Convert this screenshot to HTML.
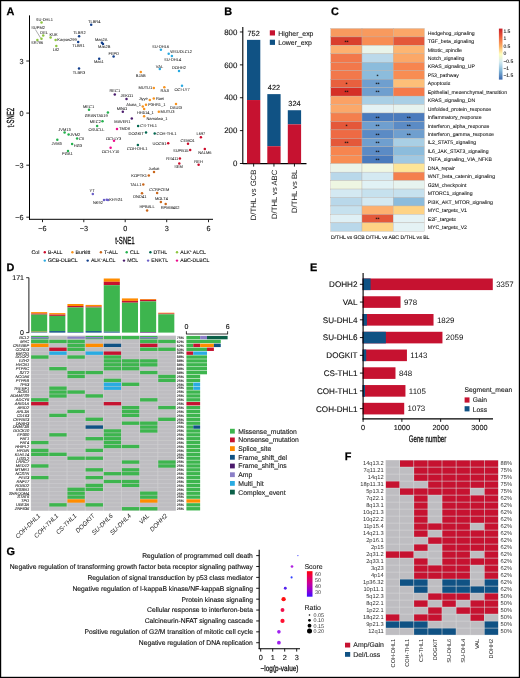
<!DOCTYPE html><html><head><meta charset="utf-8"><style>html,body{margin:0;padding:0;background:#fff;}svg{display:block;will-change:transform;font-family:"Liberation Sans",sans-serif;text-rendering:geometricPrecision;}</style></head><body><svg width="520" height="678" viewBox="0 0 520 678"><rect x="0" y="0" width="520" height="678" fill="#fff"/><text x="6.55" y="14.80" font-size="10.9" text-anchor="start" fill="#000" stroke="#000" stroke-width="0.250" font-weight="bold">A</text>
<line x1="29.50" y1="15.40" x2="29.50" y2="219.80" stroke="#000" stroke-width="1.0" />
<line x1="29.00" y1="219.30" x2="213.00" y2="219.30" stroke="#000" stroke-width="1.0" />
<line x1="26.30" y1="61.00" x2="29.20" y2="61.00" stroke="#222" stroke-width="1.0" />
<text x="23.60" y="63.60" font-size="7.3" text-anchor="end" fill="#111" stroke="#111" stroke-width="0.120" >3</text>
<line x1="26.30" y1="113.10" x2="29.20" y2="113.10" stroke="#222" stroke-width="1.0" />
<text x="23.60" y="115.70" font-size="7.3" text-anchor="end" fill="#111" stroke="#111" stroke-width="0.120" >0</text>
<line x1="26.30" y1="165.20" x2="29.20" y2="165.20" stroke="#222" stroke-width="1.0" />
<text x="23.60" y="167.80" font-size="7.3" text-anchor="end" fill="#111" stroke="#111" stroke-width="0.120" >−3</text>
<line x1="26.30" y1="217.20" x2="29.20" y2="217.20" stroke="#222" stroke-width="1.0" />
<text x="23.60" y="219.80" font-size="7.3" text-anchor="end" fill="#111" stroke="#111" stroke-width="0.120" >−6</text>
<line x1="42.50" y1="219.30" x2="42.50" y2="222.20" stroke="#222" stroke-width="1.0" />
<text x="42.50" y="231.00" font-size="7.3" text-anchor="middle" fill="#111" stroke="#111" stroke-width="0.120" >−6</text>
<line x1="83.80" y1="219.30" x2="83.80" y2="222.20" stroke="#222" stroke-width="1.0" />
<text x="83.80" y="231.00" font-size="7.3" text-anchor="middle" fill="#111" stroke="#111" stroke-width="0.120" >−3</text>
<line x1="125.20" y1="219.30" x2="125.20" y2="222.20" stroke="#222" stroke-width="1.0" />
<text x="125.20" y="231.00" font-size="7.3" text-anchor="middle" fill="#111" stroke="#111" stroke-width="0.120" >0</text>
<line x1="166.70" y1="219.30" x2="166.70" y2="222.20" stroke="#222" stroke-width="1.0" />
<text x="166.70" y="231.00" font-size="7.3" text-anchor="middle" fill="#111" stroke="#111" stroke-width="0.120" >3</text>
<line x1="208.50" y1="219.30" x2="208.50" y2="222.20" stroke="#222" stroke-width="1.0" />
<text x="208.50" y="231.00" font-size="7.3" text-anchor="middle" fill="#111" stroke="#111" stroke-width="0.120" >6</text>
<text x="0" y="0" font-size="10.3" text-anchor="middle" fill="#111" stroke="#111" stroke-width="0.35" transform="translate(124.9,243.6) scale(0.585,1)">t-SNE1</text>
<text x="0" y="0" font-size="10.3" text-anchor="middle" fill="#111" stroke="#111" stroke-width="0.35" transform="translate(13.8,117.5) rotate(-90) scale(0.585,1)">t-SNE2</text>
<line x1="35.40" y1="29.50" x2="40.80" y2="38.30" stroke="#333" stroke-width="0.4" />
<circle cx="41.50" cy="22.50" r="1.25" fill="#8dc63f"/>
<text x="44.40" y="20.80" font-size="4.0" text-anchor="middle" fill="#111" stroke="#111" stroke-width="0.020" >SU-DHL1</text>
<circle cx="41.50" cy="38.70" r="1.25" fill="#8dc63f"/>
<text x="38.10" y="28.90" font-size="4.0" text-anchor="middle" fill="#111" stroke="#111" stroke-width="0.020" >SUPM2</text>
<circle cx="43.20" cy="35.60" r="1.25" fill="#8dc63f"/>
<text x="44.20" y="33.60" font-size="4.0" text-anchor="middle" fill="#111" stroke="#111" stroke-width="0.020" >DEL</text>
<circle cx="37.40" cy="39.90" r="1.25" fill="#8dc63f"/>
<text x="37.20" y="44.40" font-size="4.0" text-anchor="middle" fill="#111" stroke="#111" stroke-width="0.020" >SR786</text>
<circle cx="50.60" cy="37.60" r="1.25" fill="#8dc63f"/>
<text x="53.60" y="35.90" font-size="4.0" text-anchor="middle" fill="#111" stroke="#111" stroke-width="0.020" >KUK</text>
<circle cx="55.60" cy="39.90" r="1.25" fill="#8dc63f"/>
<text x="57.30" y="40.80" font-size="4.0" text-anchor="start" fill="#111" stroke="#111" stroke-width="0.020" >Karpas299</text>
<circle cx="56.30" cy="46.10" r="1.25" fill="#8dc63f"/>
<text x="56.00" y="50.70" font-size="4.0" text-anchor="middle" fill="#111" stroke="#111" stroke-width="0.020" >L82</text>
<circle cx="79.10" cy="36.20" r="1.25" fill="#123f8c"/>
<text x="79.40" y="34.30" font-size="4.0" text-anchor="middle" fill="#111" stroke="#111" stroke-width="0.020" >TLBR2</text>
<circle cx="78.20" cy="42.00" r="1.25" fill="#123f8c"/>
<text x="78.50" y="47.10" font-size="4.0" text-anchor="middle" fill="#111" stroke="#111" stroke-width="0.020" >TLBR1</text>
<circle cx="91.20" cy="24.80" r="1.25" fill="#123f8c"/>
<text x="94.20" y="22.80" font-size="4.0" text-anchor="middle" fill="#111" stroke="#111" stroke-width="0.020" >TLBR4</text>
<circle cx="101.90" cy="42.70" r="1.25" fill="#123f8c"/>
<text x="101.20" y="40.70" font-size="4.0" text-anchor="middle" fill="#111" stroke="#111" stroke-width="0.020" >Mac2A</text>
<circle cx="103.00" cy="43.90" r="1.25" fill="#123f8c"/>
<text x="104.30" y="48.00" font-size="4.0" text-anchor="middle" fill="#111" stroke="#111" stroke-width="0.020" >Mac2B</text>
<circle cx="113.60" cy="56.40" r="1.25" fill="#123f8c"/>
<text x="113.80" y="54.50" font-size="4.0" text-anchor="middle" fill="#111" stroke="#111" stroke-width="0.020" >FEPD</text>
<circle cx="99.20" cy="58.70" r="1.25" fill="#123f8c"/>
<text x="98.80" y="62.90" font-size="4.0" text-anchor="middle" fill="#111" stroke="#111" stroke-width="0.020" >Mac1</text>
<circle cx="79.00" cy="68.50" r="1.25" fill="#123f8c"/>
<text x="79.00" y="73.60" font-size="4.0" text-anchor="middle" fill="#111" stroke="#111" stroke-width="0.020" >TLBR3</text>
<circle cx="160.90" cy="49.80" r="1.25" fill="#29a9e1"/>
<text x="160.60" y="47.80" font-size="4.0" text-anchor="middle" fill="#111" stroke="#111" stroke-width="0.020" >SU-DHL6</text>
<circle cx="168.70" cy="53.80" r="1.25" fill="#29a9e1"/>
<text x="170.30" y="53.00" font-size="4.0" text-anchor="start" fill="#111" stroke="#111" stroke-width="0.020" >WSUDLCL2</text>
<circle cx="171.90" cy="56.10" r="1.25" fill="#29a9e1"/>
<text x="172.60" y="61.00" font-size="4.0" text-anchor="middle" fill="#111" stroke="#111" stroke-width="0.020" >SU-DHL4</text>
<circle cx="159.80" cy="69.00" r="1.25" fill="#29a9e1"/>
<text x="159.50" y="67.60" font-size="4.0" text-anchor="middle" fill="#111" stroke="#111" stroke-width="0.020" >VAL</text>
<circle cx="179.00" cy="71.00" r="1.25" fill="#29a9e1"/>
<text x="179.00" y="69.10" font-size="4.0" text-anchor="middle" fill="#111" stroke="#111" stroke-width="0.020" >DOHH2</text>
<circle cx="182.00" cy="85.70" r="1.25" fill="#29a9e1"/>
<text x="182.10" y="90.90" font-size="4.0" text-anchor="middle" fill="#111" stroke="#111" stroke-width="0.020" >OCI-LY7</text>
<circle cx="140.80" cy="72.10" r="1.25" fill="#f7931e"/>
<text x="140.80" y="77.10" font-size="4.0" text-anchor="middle" fill="#111" stroke="#111" stroke-width="0.020" >BJAB</text>
<circle cx="153.80" cy="88.00" r="1.25" fill="#f7931e"/>
<text x="152.20" y="89.40" font-size="4.0" text-anchor="end" fill="#111" stroke="#111" stroke-width="0.020" >MUTU1</text>
<circle cx="164.30" cy="87.30" r="1.25" fill="#f7931e"/>
<text x="164.90" y="91.90" font-size="4.0" text-anchor="middle" fill="#111" stroke="#111" stroke-width="0.020" >RAJI</text>
<circle cx="149.80" cy="100.10" r="1.25" fill="#f7931e"/>
<text x="147.80" y="99.80" font-size="4.0" text-anchor="end" fill="#111" stroke="#111" stroke-width="0.020" >Jiyye</text>
<circle cx="153.80" cy="98.40" r="1.25" fill="#f7931e"/>
<text x="155.90" y="99.80" font-size="4.0" text-anchor="start" fill="#111" stroke="#111" stroke-width="0.020" >Raei</text>
<circle cx="142.80" cy="106.40" r="1.25" fill="#f7931e"/>
<text x="141.00" y="105.50" font-size="4.0" text-anchor="end" fill="#111" stroke="#111" stroke-width="0.020" >Akata_1</text>
<circle cx="146.00" cy="104.70" r="1.25" fill="#f7931e"/>
<text x="148.20" y="106.40" font-size="4.0" text-anchor="start" fill="#111" stroke="#111" stroke-width="0.020" >P3HR1_1</text>
<circle cx="144.10" cy="109.10" r="1.25" fill="#f7931e"/>
<text x="145.40" y="113.50" font-size="4.0" text-anchor="middle" fill="#111" stroke="#111" stroke-width="0.020" >HH514_1</text>
<circle cx="158.80" cy="111.80" r="1.25" fill="#f7931e"/>
<text x="160.60" y="113.20" font-size="4.0" text-anchor="start" fill="#111" stroke="#111" stroke-width="0.020" >MUTU3</text>
<circle cx="144.10" cy="116.30" r="1.25" fill="#f7931e"/>
<text x="146.40" y="119.70" font-size="4.0" text-anchor="start" fill="#111" stroke="#111" stroke-width="0.020" >Namalwa_1</text>
<circle cx="176.00" cy="104.00" r="1.25" fill="#f7931e"/>
<text x="176.20" y="109.00" font-size="4.0" text-anchor="middle" fill="#111" stroke="#111" stroke-width="0.020" >DAUDI</text>
<circle cx="114.80" cy="94.50" r="1.25" fill="#4b1c6e"/>
<text x="114.80" y="92.40" font-size="4.0" text-anchor="middle" fill="#111" stroke="#111" stroke-width="0.020" >REC1</text>
<circle cx="126.50" cy="99.00" r="1.25" fill="#4b1c6e"/>
<text x="126.90" y="97.10" font-size="4.0" text-anchor="middle" fill="#111" stroke="#111" stroke-width="0.020" >JEKO1</text>
<circle cx="122.80" cy="111.70" r="1.25" fill="#4b1c6e"/>
<text x="121.90" y="109.90" font-size="4.0" text-anchor="middle" fill="#111" stroke="#111" stroke-width="0.020" >MINO</text>
<circle cx="131.80" cy="118.60" r="1.25" fill="#4b1c6e"/>
<text x="122.40" y="122.50" font-size="4.0" text-anchor="middle" fill="#111" stroke="#111" stroke-width="0.020" >MAVER1</text>
<circle cx="89.00" cy="109.80" r="1.25" fill="#22b14c"/>
<text x="88.60" y="107.80" font-size="4.0" text-anchor="middle" fill="#111" stroke="#111" stroke-width="0.020" >MEC1</text>
<circle cx="107.90" cy="112.50" r="1.25" fill="#22b14c"/>
<text x="96.20" y="117.10" font-size="4.0" text-anchor="middle" fill="#111" stroke="#111" stroke-width="0.020" >GRANTA519</text>
<circle cx="102.50" cy="121.30" r="1.25" fill="#22b14c"/>
<text x="100.90" y="122.70" font-size="4.0" text-anchor="end" fill="#111" stroke="#111" stroke-width="0.020" >MEC2</text>
<circle cx="97.10" cy="126.00" r="1.25" fill="#22b14c"/>
<text x="96.40" y="130.70" font-size="4.0" text-anchor="middle" fill="#111" stroke="#111" stroke-width="0.020" >OSUCLL</text>
<circle cx="64.60" cy="132.40" r="1.25" fill="#22b14c"/>
<text x="64.60" y="130.70" font-size="4.0" text-anchor="middle" fill="#111" stroke="#111" stroke-width="0.020" >JVM13</text>
<circle cx="68.60" cy="134.40" r="1.25" fill="#22b14c"/>
<text x="70.10" y="135.80" font-size="4.0" text-anchor="start" fill="#111" stroke="#111" stroke-width="0.020" >JVM2</text>
<circle cx="77.10" cy="138.50" r="1.25" fill="#22b14c"/>
<text x="78.90" y="139.90" font-size="4.0" text-anchor="start" fill="#111" stroke="#111" stroke-width="0.020" >CII</text>
<circle cx="57.30" cy="139.80" r="1.25" fill="#22b14c"/>
<text x="56.70" y="144.60" font-size="4.0" text-anchor="middle" fill="#111" stroke="#111" stroke-width="0.020" >JVM3</text>
<circle cx="72.10" cy="144.10" r="1.25" fill="#22b14c"/>
<text x="73.80" y="146.60" font-size="4.0" text-anchor="start" fill="#111" stroke="#111" stroke-width="0.020" >HG3</text>
<circle cx="68.00" cy="151.10" r="1.25" fill="#22b14c"/>
<text x="67.40" y="155.40" font-size="4.0" text-anchor="middle" fill="#111" stroke="#111" stroke-width="0.020" >PGA1</text>
<circle cx="117.00" cy="128.90" r="1.25" fill="#ec0c8c"/>
<text x="119.00" y="130.30" font-size="4.0" text-anchor="start" fill="#111" stroke="#111" stroke-width="0.020" >TMD8</text>
<circle cx="114.00" cy="140.80" r="1.25" fill="#ec0c8c"/>
<text x="113.60" y="139.50" font-size="4.0" text-anchor="middle" fill="#111" stroke="#111" stroke-width="0.020" >OCI-LY3</text>
<circle cx="110.60" cy="147.80" r="1.25" fill="#ec0c8c"/>
<text x="110.60" y="152.50" font-size="4.0" text-anchor="middle" fill="#111" stroke="#111" stroke-width="0.020" >OCI-LY10</text>
<circle cx="138.10" cy="126.00" r="1.25" fill="#00664f"/>
<text x="140.30" y="127.40" font-size="4.0" text-anchor="start" fill="#111" stroke="#111" stroke-width="0.020" >CS-THL1</text>
<circle cx="146.00" cy="132.60" r="1.25" fill="#00664f"/>
<text x="143.90" y="134.80" font-size="4.0" text-anchor="end" fill="#111" stroke="#111" stroke-width="0.020" >DOGKIT</text>
<circle cx="137.90" cy="145.10" r="1.25" fill="#00664f"/>
<text x="137.20" y="150.10" font-size="4.0" text-anchor="middle" fill="#111" stroke="#111" stroke-width="0.020" >COH-DHL1</text>
<circle cx="154.70" cy="133.40" r="1.25" fill="#00664f"/>
<text x="156.50" y="134.80" font-size="4.0" text-anchor="start" fill="#111" stroke="#111" stroke-width="0.020" >COH-THL1</text>
<circle cx="200.90" cy="137.30" r="1.25" fill="#cc0a2a"/>
<text x="200.90" y="135.40" font-size="4.0" text-anchor="middle" fill="#111" stroke="#111" stroke-width="0.020" >L697</text>
<circle cx="188.00" cy="143.80" r="1.25" fill="#cc0a2a"/>
<text x="187.70" y="141.80" font-size="4.0" text-anchor="middle" fill="#111" stroke="#111" stroke-width="0.020" >CEMO1</text>
<circle cx="168.20" cy="143.20" r="1.25" fill="#cc0a2a"/>
<text x="166.40" y="144.60" font-size="4.0" text-anchor="end" fill="#111" stroke="#111" stroke-width="0.020" >UOCB1</text>
<circle cx="190.20" cy="150.10" r="1.25" fill="#cc0a2a"/>
<text x="188.40" y="151.60" font-size="4.0" text-anchor="end" fill="#111" stroke="#111" stroke-width="0.020" >SUPB15</text>
<circle cx="204.80" cy="149.00" r="1.25" fill="#cc0a2a"/>
<text x="204.80" y="153.80" font-size="4.0" text-anchor="middle" fill="#111" stroke="#111" stroke-width="0.020" >NALM6</text>
<circle cx="179.90" cy="158.50" r="1.25" fill="#cc0a2a"/>
<text x="178.30" y="159.90" font-size="4.0" text-anchor="end" fill="#111" stroke="#111" stroke-width="0.020" >RS411</text>
<circle cx="179.30" cy="163.60" r="1.25" fill="#cc0a2a"/>
<text x="178.50" y="168.40" font-size="4.0" text-anchor="middle" fill="#111" stroke="#111" stroke-width="0.020" >SEM</text>
<circle cx="198.60" cy="164.80" r="1.25" fill="#cc0a2a"/>
<text x="198.60" y="162.90" font-size="4.0" text-anchor="middle" fill="#111" stroke="#111" stroke-width="0.020" >REH</text>
<circle cx="154.00" cy="172.10" r="1.25" fill="#c9661a"/>
<text x="154.00" y="170.10" font-size="4.0" text-anchor="middle" fill="#111" stroke="#111" stroke-width="0.020" >Jurkat</text>
<circle cx="148.80" cy="175.60" r="1.25" fill="#c9661a"/>
<text x="147.10" y="176.70" font-size="4.0" text-anchor="end" fill="#111" stroke="#111" stroke-width="0.020" >KOPTK1</text>
<circle cx="143.30" cy="184.60" r="1.25" fill="#c9661a"/>
<text x="141.50" y="185.80" font-size="4.0" text-anchor="end" fill="#111" stroke="#111" stroke-width="0.020" >TALL1</text>
<circle cx="157.10" cy="192.90" r="1.25" fill="#c9661a"/>
<text x="159.30" y="191.30" font-size="4.0" text-anchor="middle" fill="#111" stroke="#111" stroke-width="0.020" >CCRFCEM</text>
<circle cx="142.00" cy="193.20" r="1.25" fill="#c9661a"/>
<text x="139.80" y="198.10" font-size="4.0" text-anchor="middle" fill="#111" stroke="#111" stroke-width="0.020" >DND41</text>
<circle cx="160.90" cy="202.00" r="1.25" fill="#c9661a"/>
<text x="161.40" y="200.30" font-size="4.0" text-anchor="middle" fill="#111" stroke="#111" stroke-width="0.020" >MOLT4</text>
<circle cx="165.70" cy="204.10" r="1.25" fill="#c9661a"/>
<text x="170.10" y="209.30" font-size="4.0" text-anchor="middle" fill="#111" stroke="#111" stroke-width="0.020" >RPMI8402</text>
<circle cx="147.10" cy="210.50" r="1.25" fill="#c9661a"/>
<text x="147.10" y="208.10" font-size="4.0" text-anchor="middle" fill="#111" stroke="#111" stroke-width="0.020" >HPBALL</text>
<circle cx="92.80" cy="194.00" r="1.25" fill="#6b5fc8"/>
<text x="92.10" y="192.00" font-size="4.0" text-anchor="middle" fill="#111" stroke="#111" stroke-width="0.020" >YT</text>
<circle cx="104.00" cy="200.00" r="1.25" fill="#6b5fc8"/>
<text x="102.90" y="203.70" font-size="4.0" text-anchor="end" fill="#111" stroke="#111" stroke-width="0.020" >NK92</text>
<circle cx="106.70" cy="199.80" r="1.25" fill="#6b5fc8"/>
<circle cx="108.00" cy="199.90" r="1.25" fill="#6b5fc8"/>
<text x="109.20" y="201.40" font-size="4.0" text-anchor="start" fill="#111" stroke="#111" stroke-width="0.020" >KHYG1</text>
<text x="31.60" y="254.15" font-size="5.2" text-anchor="start" fill="#111" stroke="#111" stroke-width="0.100" >Col</text>
<circle cx="44.80" cy="252.30" r="1.20" fill="#cc0a2a"/>
<text x="48.00" y="254.15" font-size="5.2" text-anchor="start" fill="#111" stroke="#111" stroke-width="0.100" >B-ALL</text>
<circle cx="72.40" cy="252.30" r="1.20" fill="#f7931e"/>
<text x="75.60" y="254.15" font-size="5.2" text-anchor="start" fill="#111" stroke="#111" stroke-width="0.100" >Burkitt</text>
<circle cx="100.90" cy="252.30" r="1.20" fill="#c9661a"/>
<text x="104.10" y="254.15" font-size="5.2" text-anchor="start" fill="#111" stroke="#111" stroke-width="0.100" >T-ALL</text>
<circle cx="126.70" cy="252.30" r="1.20" fill="#22b14c"/>
<text x="129.90" y="254.15" font-size="5.2" text-anchor="start" fill="#111" stroke="#111" stroke-width="0.100" >CLL</text>
<circle cx="150.40" cy="252.30" r="1.20" fill="#00664f"/>
<text x="153.60" y="254.15" font-size="5.2" text-anchor="start" fill="#111" stroke="#111" stroke-width="0.100" >DTHL</text>
<circle cx="177.00" cy="252.30" r="1.20" fill="#8dc63f"/>
<text x="180.20" y="254.15" font-size="5.2" text-anchor="start" fill="#111" stroke="#111" stroke-width="0.100" >ALK<tspan dy="-2.1" font-size="2.9">+</tspan><tspan dy="2.1"> ALCL</tspan></text>
<circle cx="44.80" cy="260.60" r="1.20" fill="#29a9e1"/>
<text x="48.00" y="262.45" font-size="5.2" text-anchor="start" fill="#111" stroke="#111" stroke-width="0.100" >GCB-DLBCL</text>
<circle cx="87.70" cy="260.60" r="1.20" fill="#123f8c"/>
<text x="90.90" y="262.45" font-size="5.2" text-anchor="start" fill="#111" stroke="#111" stroke-width="0.100" >ALK<tspan dy="-2.1" font-size="2.9">−</tspan><tspan dy="2.1">ALCL</tspan></text>
<circle cx="124.00" cy="260.60" r="1.20" fill="#4b1c6e"/>
<text x="127.20" y="262.45" font-size="5.2" text-anchor="start" fill="#111" stroke="#111" stroke-width="0.100" >MCL</text>
<circle cx="148.10" cy="260.60" r="1.20" fill="#6b5fc8"/>
<text x="151.30" y="262.45" font-size="5.2" text-anchor="start" fill="#111" stroke="#111" stroke-width="0.100" >ENKTL</text>
<circle cx="177.00" cy="260.60" r="1.20" fill="#ec0c8c"/>
<text x="180.20" y="262.45" font-size="5.2" text-anchor="start" fill="#111" stroke="#111" stroke-width="0.100" >ABC-DLBCL</text>
<text x="224.30" y="15.00" font-size="10.9" text-anchor="start" fill="#000" stroke="#000" stroke-width="0.250" font-weight="bold">B</text>
<line x1="242.80" y1="26.90" x2="242.80" y2="164.00" stroke="#000" stroke-width="1.1" />
<line x1="242.70" y1="163.60" x2="306.50" y2="163.60" stroke="#000" stroke-width="1.1" />
<line x1="239.90" y1="163.50" x2="243.00" y2="163.50" stroke="#000" stroke-width="0.9" />
<text x="237.40" y="166.25" font-size="7.9" text-anchor="end" fill="#111" stroke="#111" stroke-width="0.120" >0</text>
<line x1="239.90" y1="130.62" x2="243.00" y2="130.62" stroke="#000" stroke-width="0.9" />
<text x="237.40" y="133.37" font-size="7.9" text-anchor="end" fill="#111" stroke="#111" stroke-width="0.120" >200</text>
<line x1="239.90" y1="97.74" x2="243.00" y2="97.74" stroke="#000" stroke-width="0.9" />
<text x="237.40" y="100.49" font-size="7.9" text-anchor="end" fill="#111" stroke="#111" stroke-width="0.120" >400</text>
<line x1="239.90" y1="64.86" x2="243.00" y2="64.86" stroke="#000" stroke-width="0.9" />
<text x="237.40" y="67.61" font-size="7.9" text-anchor="end" fill="#111" stroke="#111" stroke-width="0.120" >600</text>
<line x1="239.90" y1="31.98" x2="243.00" y2="31.98" stroke="#000" stroke-width="0.9" />
<text x="237.40" y="34.73" font-size="7.9" text-anchor="end" fill="#111" stroke="#111" stroke-width="0.120" >800</text>
<rect x="247.00" y="39.87" width="13.30" height="60.17" fill="#105284" />
<rect x="247.00" y="100.04" width="13.30" height="63.46" fill="#c61230" />
<text x="253.65" y="35.87" font-size="7.4" text-anchor="middle" fill="#111" stroke="#111" stroke-width="0.120" >752</text>
<line x1="253.65" y1="163.60" x2="253.65" y2="166.60" stroke="#000" stroke-width="0.9" />
<rect x="267.30" y="94.12" width="13.30" height="52.11" fill="#105284" />
<rect x="267.30" y="146.24" width="13.30" height="17.26" fill="#c61230" />
<text x="273.95" y="90.12" font-size="7.4" text-anchor="middle" fill="#111" stroke="#111" stroke-width="0.120" >422</text>
<line x1="273.95" y1="163.60" x2="273.95" y2="166.60" stroke="#000" stroke-width="0.9" />
<rect x="287.80" y="110.23" width="13.30" height="14.14" fill="#105284" />
<rect x="287.80" y="124.37" width="13.30" height="39.13" fill="#c61230" />
<text x="294.45" y="106.23" font-size="7.4" text-anchor="middle" fill="#111" stroke="#111" stroke-width="0.120" >324</text>
<line x1="294.45" y1="163.60" x2="294.45" y2="166.60" stroke="#000" stroke-width="0.9" />
<rect x="269.80" y="30.30" width="5.20" height="5.20" fill="#c61230" />
<rect x="269.80" y="39.70" width="5.20" height="5.20" fill="#105284" />
<text x="278.20" y="35.50" font-size="6.9" text-anchor="start" fill="#222" stroke="#222" stroke-width="0.120" >Higher_exp</text>
<text x="278.20" y="44.90" font-size="6.9" text-anchor="start" fill="#222" stroke="#222" stroke-width="0.120" >Lower_exp</text>
<text x="0" y="0" font-size="7.7" text-anchor="end" fill="#111" transform="translate(256.40,169.7) rotate(-90)">D/THL vs GCB</text>
<text x="0" y="0" font-size="7.7" text-anchor="end" fill="#111" transform="translate(276.80,169.7) rotate(-90)">D/THL vs ABC</text>
<text x="0" y="0" font-size="7.7" text-anchor="end" fill="#111" transform="translate(297.20,169.7) rotate(-90)">D/THL vs BL</text>
<text x="330.90" y="15.00" font-size="10.9" text-anchor="start" fill="#000" stroke="#000" stroke-width="0.250" font-weight="bold">C</text>
<rect x="330.80" y="28.50" width="31.20" height="8.45" fill="#f89a5e" stroke="#b8b0a8" stroke-width="0.35"/>
<rect x="362.00" y="28.50" width="31.20" height="8.45" fill="#f89a5e" stroke="#b8b0a8" stroke-width="0.35"/>
<rect x="393.20" y="28.50" width="31.20" height="8.45" fill="#fba768" stroke="#b8b0a8" stroke-width="0.35"/>
<text x="427.70" y="34.62" font-size="5.16" text-anchor="start" fill="#111" stroke="#111" stroke-width="0.070" >Hedgehog_signaling</text>
<rect x="330.80" y="36.95" width="31.20" height="8.45" fill="#d93f2d" stroke="#b8b0a8" stroke-width="0.35"/>
<text x="346.40" y="43.78" font-size="5.2" text-anchor="middle" fill="#111" stroke="#111" stroke-width="0.000" font-weight="bold">**</text>
<rect x="362.00" y="36.95" width="31.20" height="8.45" fill="#f88d53" stroke="#b8b0a8" stroke-width="0.35"/>
<rect x="393.20" y="36.95" width="31.20" height="8.45" fill="#e4583a" stroke="#b8b0a8" stroke-width="0.35"/>
<text x="427.70" y="43.08" font-size="5.16" text-anchor="start" fill="#111" stroke="#111" stroke-width="0.070" >TGF_beta_signaling</text>
<rect x="330.80" y="45.40" width="31.20" height="8.45" fill="#fdb070" stroke="#b8b0a8" stroke-width="0.35"/>
<rect x="362.00" y="45.40" width="31.20" height="8.45" fill="#eaf4ea" stroke="#b8b0a8" stroke-width="0.35"/>
<rect x="393.20" y="45.40" width="31.20" height="8.45" fill="#fdb572" stroke="#b8b0a8" stroke-width="0.35"/>
<text x="427.70" y="51.52" font-size="5.16" text-anchor="start" fill="#111" stroke="#111" stroke-width="0.070" >Mitotic_spindle</text>
<rect x="330.80" y="53.85" width="31.20" height="8.45" fill="#f2784b" stroke="#b8b0a8" stroke-width="0.35"/>
<rect x="362.00" y="53.85" width="31.20" height="8.45" fill="#bcd9ea" stroke="#b8b0a8" stroke-width="0.35"/>
<rect x="393.20" y="53.85" width="31.20" height="8.45" fill="#fba868" stroke="#b8b0a8" stroke-width="0.35"/>
<text x="427.70" y="59.97" font-size="5.16" text-anchor="start" fill="#111" stroke="#111" stroke-width="0.070" >Notch_signaling</text>
<rect x="330.80" y="62.30" width="31.20" height="8.45" fill="#f2784b" stroke="#b8b0a8" stroke-width="0.35"/>
<rect x="362.00" y="62.30" width="31.20" height="8.45" fill="#8cbcdc" stroke="#b8b0a8" stroke-width="0.35"/>
<rect x="393.20" y="62.30" width="31.20" height="8.45" fill="#f7854f" stroke="#b8b0a8" stroke-width="0.35"/>
<text x="427.70" y="68.42" font-size="5.16" text-anchor="start" fill="#111" stroke="#111" stroke-width="0.070" >KRAS_signaling_UP</text>
<rect x="330.80" y="70.75" width="31.20" height="8.45" fill="#f2784b" stroke="#b8b0a8" stroke-width="0.35"/>
<rect x="362.00" y="70.75" width="31.20" height="8.45" fill="#8cbcdc" stroke="#b8b0a8" stroke-width="0.35"/>
<text x="377.60" y="77.57" font-size="5.2" text-anchor="middle" fill="#111" stroke="#111" stroke-width="0.000" font-weight="bold">*</text>
<rect x="393.20" y="70.75" width="31.20" height="8.45" fill="#f88d53" stroke="#b8b0a8" stroke-width="0.35"/>
<text x="427.70" y="76.88" font-size="5.16" text-anchor="start" fill="#111" stroke="#111" stroke-width="0.070" >P53_pathway</text>
<rect x="330.80" y="79.20" width="31.20" height="8.45" fill="#e8603e" stroke="#b8b0a8" stroke-width="0.35"/>
<text x="346.40" y="86.02" font-size="5.2" text-anchor="middle" fill="#111" stroke="#111" stroke-width="0.000" font-weight="bold">*</text>
<rect x="362.00" y="79.20" width="31.20" height="8.45" fill="#6f9fcf" stroke="#b8b0a8" stroke-width="0.35"/>
<text x="377.60" y="86.02" font-size="5.2" text-anchor="middle" fill="#111" stroke="#111" stroke-width="0.000" font-weight="bold">**</text>
<rect x="393.20" y="79.20" width="31.20" height="8.45" fill="#fdbf78" stroke="#b8b0a8" stroke-width="0.35"/>
<text x="427.70" y="85.32" font-size="5.16" text-anchor="start" fill="#111" stroke="#111" stroke-width="0.070" >Apoptosis</text>
<rect x="330.80" y="87.65" width="31.20" height="8.45" fill="#d52f26" stroke="#b8b0a8" stroke-width="0.35"/>
<text x="346.40" y="94.47" font-size="5.2" text-anchor="middle" fill="#111" stroke="#111" stroke-width="0.000" font-weight="bold">**</text>
<rect x="362.00" y="87.65" width="31.20" height="8.45" fill="#6f9fcf" stroke="#b8b0a8" stroke-width="0.35"/>
<text x="377.60" y="94.47" font-size="5.2" text-anchor="middle" fill="#111" stroke="#111" stroke-width="0.000" font-weight="bold">**</text>
<rect x="393.20" y="87.65" width="31.20" height="8.45" fill="#f57a4a" stroke="#b8b0a8" stroke-width="0.35"/>
<text x="427.70" y="93.77" font-size="5.16" text-anchor="start" fill="#111" stroke="#111" stroke-width="0.070" >Epithelial_mesenchymal_transition</text>
<rect x="330.80" y="96.10" width="31.20" height="8.45" fill="#fba165" stroke="#b8b0a8" stroke-width="0.35"/>
<rect x="362.00" y="96.10" width="31.20" height="8.45" fill="#a9cfe5" stroke="#b8b0a8" stroke-width="0.35"/>
<rect x="393.20" y="96.10" width="31.20" height="8.45" fill="#a9cfe5" stroke="#b8b0a8" stroke-width="0.35"/>
<text x="427.70" y="102.22" font-size="5.16" text-anchor="start" fill="#111" stroke="#111" stroke-width="0.070" >KRAS_signaling_DN</text>
<rect x="330.80" y="104.55" width="31.20" height="8.45" fill="#fba86a" stroke="#b8b0a8" stroke-width="0.35"/>
<rect x="362.00" y="104.55" width="31.20" height="8.45" fill="#e4f2f4" stroke="#b8b0a8" stroke-width="0.35"/>
<rect x="393.20" y="104.55" width="31.20" height="8.45" fill="#e6f3ef" stroke="#b8b0a8" stroke-width="0.35"/>
<text x="427.70" y="110.67" font-size="5.16" text-anchor="start" fill="#111" stroke="#111" stroke-width="0.070" >Unfolded_protein_response</text>
<rect x="330.80" y="113.00" width="31.20" height="8.45" fill="#f47f4d" stroke="#b8b0a8" stroke-width="0.35"/>
<rect x="362.00" y="113.00" width="31.20" height="8.45" fill="#4a7bbd" stroke="#b8b0a8" stroke-width="0.35"/>
<text x="377.60" y="119.82" font-size="5.2" text-anchor="middle" fill="#111" stroke="#111" stroke-width="0.000" font-weight="bold">**</text>
<rect x="393.20" y="113.00" width="31.20" height="8.45" fill="#4a7bbd" stroke="#b8b0a8" stroke-width="0.35"/>
<text x="408.80" y="119.82" font-size="5.2" text-anchor="middle" fill="#111" stroke="#111" stroke-width="0.000" font-weight="bold">**</text>
<text x="427.70" y="119.12" font-size="5.16" text-anchor="start" fill="#111" stroke="#111" stroke-width="0.070" >Inflammatory_response</text>
<rect x="330.80" y="121.45" width="31.20" height="8.45" fill="#e4583a" stroke="#b8b0a8" stroke-width="0.35"/>
<text x="346.40" y="128.27" font-size="5.2" text-anchor="middle" fill="#111" stroke="#111" stroke-width="0.000" font-weight="bold">*</text>
<rect x="362.00" y="121.45" width="31.20" height="8.45" fill="#6f9fcf" stroke="#b8b0a8" stroke-width="0.35"/>
<text x="377.60" y="128.27" font-size="5.2" text-anchor="middle" fill="#111" stroke="#111" stroke-width="0.000" font-weight="bold">**</text>
<rect x="393.20" y="121.45" width="31.20" height="8.45" fill="#5b8bc5" stroke="#b8b0a8" stroke-width="0.35"/>
<text x="408.80" y="128.27" font-size="5.2" text-anchor="middle" fill="#111" stroke="#111" stroke-width="0.000" font-weight="bold">**</text>
<text x="427.70" y="127.57" font-size="5.16" text-anchor="start" fill="#111" stroke="#111" stroke-width="0.070" >Interferon_alpha_response</text>
<rect x="330.80" y="129.90" width="31.20" height="8.45" fill="#ee6a44" stroke="#b8b0a8" stroke-width="0.35"/>
<rect x="362.00" y="129.90" width="31.20" height="8.45" fill="#5b8bc5" stroke="#b8b0a8" stroke-width="0.35"/>
<text x="377.60" y="136.72" font-size="5.2" text-anchor="middle" fill="#111" stroke="#111" stroke-width="0.000" font-weight="bold">**</text>
<rect x="393.20" y="129.90" width="31.20" height="8.45" fill="#6f9fcf" stroke="#b8b0a8" stroke-width="0.35"/>
<text x="408.80" y="136.72" font-size="5.2" text-anchor="middle" fill="#111" stroke="#111" stroke-width="0.000" font-weight="bold">**</text>
<text x="427.70" y="136.02" font-size="5.16" text-anchor="start" fill="#111" stroke="#111" stroke-width="0.070" >Interferon_gamma_response</text>
<rect x="330.80" y="138.35" width="31.20" height="8.45" fill="#e4583a" stroke="#b8b0a8" stroke-width="0.35"/>
<text x="346.40" y="145.17" font-size="5.2" text-anchor="middle" fill="#111" stroke="#111" stroke-width="0.000" font-weight="bold">**</text>
<rect x="362.00" y="138.35" width="31.20" height="8.45" fill="#6f9fcf" stroke="#b8b0a8" stroke-width="0.35"/>
<text x="377.60" y="145.17" font-size="5.2" text-anchor="middle" fill="#111" stroke="#111" stroke-width="0.000" font-weight="bold">**</text>
<rect x="393.20" y="138.35" width="31.20" height="8.45" fill="#a9cfe5" stroke="#b8b0a8" stroke-width="0.35"/>
<text x="427.70" y="144.47" font-size="5.16" text-anchor="start" fill="#111" stroke="#111" stroke-width="0.070" >IL2_STAT5_signaling</text>
<rect x="330.80" y="146.80" width="31.20" height="8.45" fill="#f7854f" stroke="#b8b0a8" stroke-width="0.35"/>
<rect x="362.00" y="146.80" width="31.20" height="8.45" fill="#5b8bc5" stroke="#b8b0a8" stroke-width="0.35"/>
<text x="377.60" y="153.62" font-size="5.2" text-anchor="middle" fill="#111" stroke="#111" stroke-width="0.000" font-weight="bold">**</text>
<rect x="393.20" y="146.80" width="31.20" height="8.45" fill="#8cbcdc" stroke="#b8b0a8" stroke-width="0.35"/>
<text x="427.70" y="152.92" font-size="5.16" text-anchor="start" fill="#111" stroke="#111" stroke-width="0.070" >IL6_JAK_STAT3_signaling</text>
<rect x="330.80" y="155.25" width="31.20" height="8.45" fill="#f88d53" stroke="#b8b0a8" stroke-width="0.35"/>
<rect x="362.00" y="155.25" width="31.20" height="8.45" fill="#4a7bbd" stroke="#b8b0a8" stroke-width="0.35"/>
<text x="377.60" y="162.07" font-size="5.2" text-anchor="middle" fill="#111" stroke="#111" stroke-width="0.000" font-weight="bold">**</text>
<rect x="393.20" y="155.25" width="31.20" height="8.45" fill="#a0c8e2" stroke="#b8b0a8" stroke-width="0.35"/>
<text x="427.70" y="161.38" font-size="5.16" text-anchor="start" fill="#111" stroke="#111" stroke-width="0.070" >TNFA_signaling_VIA_NFKB</text>
<rect x="330.80" y="163.70" width="31.20" height="8.45" fill="#eaf4ea" stroke="#b8b0a8" stroke-width="0.35"/>
<rect x="362.00" y="163.70" width="31.20" height="8.45" fill="#f0f7e4" stroke="#b8b0a8" stroke-width="0.35"/>
<rect x="393.20" y="163.70" width="31.20" height="8.45" fill="#fee597" stroke="#b8b0a8" stroke-width="0.35"/>
<text x="427.70" y="169.82" font-size="5.16" text-anchor="start" fill="#111" stroke="#111" stroke-width="0.070" >DNA_repair</text>
<rect x="330.80" y="172.15" width="31.20" height="8.45" fill="#b9d8ea" stroke="#b8b0a8" stroke-width="0.35"/>
<rect x="362.00" y="172.15" width="31.20" height="8.45" fill="#d4e9f2" stroke="#b8b0a8" stroke-width="0.35"/>
<rect x="393.20" y="172.15" width="31.20" height="8.45" fill="#f47f4d" stroke="#b8b0a8" stroke-width="0.35"/>
<text x="427.70" y="178.27" font-size="5.16" text-anchor="start" fill="#111" stroke="#111" stroke-width="0.070" >WNT_beta_catenin_signaling</text>
<rect x="330.80" y="180.60" width="31.20" height="8.45" fill="#eef6e2" stroke="#b8b0a8" stroke-width="0.35"/>
<rect x="362.00" y="180.60" width="31.20" height="8.45" fill="#e1f2f5" stroke="#b8b0a8" stroke-width="0.35"/>
<rect x="393.20" y="180.60" width="31.20" height="8.45" fill="#e6f3ef" stroke="#b8b0a8" stroke-width="0.35"/>
<text x="427.70" y="186.72" font-size="5.16" text-anchor="start" fill="#111" stroke="#111" stroke-width="0.070" >G2M_checkpoint</text>
<rect x="330.80" y="189.05" width="31.20" height="8.45" fill="#d4e9f2" stroke="#b8b0a8" stroke-width="0.35"/>
<rect x="362.00" y="189.05" width="31.20" height="8.45" fill="#c6e1ee" stroke="#b8b0a8" stroke-width="0.35"/>
<rect x="393.20" y="189.05" width="31.20" height="8.45" fill="#c6e1ee" stroke="#b8b0a8" stroke-width="0.35"/>
<text x="427.70" y="195.17" font-size="5.16" text-anchor="start" fill="#111" stroke="#111" stroke-width="0.070" >MTORC1_signaling</text>
<rect x="330.80" y="197.50" width="31.20" height="8.45" fill="#b9d8ea" stroke="#b8b0a8" stroke-width="0.35"/>
<rect x="362.00" y="197.50" width="31.20" height="8.45" fill="#d4e9f2" stroke="#b8b0a8" stroke-width="0.35"/>
<rect x="393.20" y="197.50" width="31.20" height="8.45" fill="#8cbcdc" stroke="#b8b0a8" stroke-width="0.35"/>
<text x="427.70" y="203.62" font-size="5.16" text-anchor="start" fill="#111" stroke="#111" stroke-width="0.070" >PI3K_AKT_MTOR_signaling</text>
<rect x="330.80" y="205.95" width="31.20" height="8.45" fill="#c6e1ee" stroke="#b8b0a8" stroke-width="0.35"/>
<rect x="362.00" y="205.95" width="31.20" height="8.45" fill="#fdb070" stroke="#b8b0a8" stroke-width="0.35"/>
<rect x="393.20" y="205.95" width="31.20" height="8.45" fill="#fed385" stroke="#b8b0a8" stroke-width="0.35"/>
<text x="427.70" y="212.07" font-size="5.16" text-anchor="start" fill="#111" stroke="#111" stroke-width="0.070" >MYC_targets_V1</text>
<rect x="330.80" y="214.40" width="31.20" height="8.45" fill="#dff0f5" stroke="#b8b0a8" stroke-width="0.35"/>
<rect x="362.00" y="214.40" width="31.20" height="8.45" fill="#e4583a" stroke="#b8b0a8" stroke-width="0.35"/>
<text x="377.60" y="221.22" font-size="5.2" text-anchor="middle" fill="#111" stroke="#111" stroke-width="0.000" font-weight="bold">**</text>
<rect x="393.20" y="214.40" width="31.20" height="8.45" fill="#e4f2f4" stroke="#b8b0a8" stroke-width="0.35"/>
<text x="427.70" y="220.52" font-size="5.16" text-anchor="start" fill="#111" stroke="#111" stroke-width="0.070" >E2F_targets</text>
<rect x="330.80" y="222.85" width="31.20" height="8.45" fill="#b9d8ea" stroke="#b8b0a8" stroke-width="0.35"/>
<rect x="362.00" y="222.85" width="31.20" height="8.45" fill="#fed385" stroke="#b8b0a8" stroke-width="0.35"/>
<rect x="393.20" y="222.85" width="31.20" height="8.45" fill="#e4f2f4" stroke="#b8b0a8" stroke-width="0.35"/>
<text x="427.70" y="228.97" font-size="5.16" text-anchor="start" fill="#111" stroke="#111" stroke-width="0.070" >MYC_targets_V2</text>
<text x="330.90" y="239.35" font-size="5.15" text-anchor="start" fill="#111" stroke="#111" stroke-width="0.100" >D/THL vs GCB D/THL vs ABC D/THL vs BL</text>
<defs><linearGradient id="cb" x1="0" y1="0" x2="0" y2="1"><stop offset="0" stop-color="#c81e27"/><stop offset="0.18" stop-color="#ee6540"/><stop offset="0.35" stop-color="#fcb063"/><stop offset="0.5" stop-color="#fefebb"/><stop offset="0.65" stop-color="#d7ecf1"/><stop offset="0.82" stop-color="#86b9d9"/><stop offset="1" stop-color="#3a67ad"/></linearGradient></defs>
<rect x="498.90" y="28.60" width="3.60" height="51.00" fill="url(#cb)" />
<text x="503.40" y="32.50" font-size="5.0" text-anchor="start" fill="#111" stroke="#111" stroke-width="0.080" >1.5</text>
<text x="503.40" y="40.00" font-size="5.0" text-anchor="start" fill="#111" stroke="#111" stroke-width="0.080" >1</text>
<text x="503.40" y="47.50" font-size="5.0" text-anchor="start" fill="#111" stroke="#111" stroke-width="0.080" >0.5</text>
<text x="503.40" y="54.90" font-size="5.0" text-anchor="start" fill="#111" stroke="#111" stroke-width="0.080" >0</text>
<text x="503.40" y="62.50" font-size="5.0" text-anchor="start" fill="#111" stroke="#111" stroke-width="0.080" >−0.5</text>
<text x="503.40" y="69.70" font-size="5.0" text-anchor="start" fill="#111" stroke="#111" stroke-width="0.080" >−1</text>
<text x="503.40" y="77.20" font-size="5.0" text-anchor="start" fill="#111" stroke="#111" stroke-width="0.080" >−1.5</text>
<text x="6.40" y="271.10" font-size="10.9" text-anchor="start" fill="#000" stroke="#000" stroke-width="0.250" font-weight="bold">D</text>
<line x1="28.90" y1="277.70" x2="28.90" y2="332.60" stroke="#000" stroke-width="0.9" />
<line x1="26.20" y1="277.70" x2="28.90" y2="277.70" stroke="#000" stroke-width="0.8" />
<line x1="26.20" y1="332.60" x2="28.90" y2="332.60" stroke="#000" stroke-width="0.8" />
<text x="24.00" y="280.20" font-size="7.0" text-anchor="end" fill="#111" stroke="#111" stroke-width="0.120" >171</text>
<text x="24.00" y="335.10" font-size="7.0" text-anchor="end" fill="#111" stroke="#111" stroke-width="0.120" >0</text>
<rect x="31.10" y="312.10" width="16.10" height="1.50" fill="#ff8c00" />
<rect x="31.10" y="313.60" width="16.10" height="1.00" fill="#c61230" />
<rect x="31.10" y="314.60" width="16.10" height="16.80" fill="#3db54e" />
<rect x="31.10" y="331.40" width="16.10" height="0.80" fill="#8a8a30" />
<rect x="31.10" y="332.20" width="16.10" height="0.40" fill="#105284" />
<rect x="49.26" y="313.10" width="16.10" height="1.50" fill="#ff8c00" />
<rect x="49.26" y="314.60" width="16.10" height="1.30" fill="#c61230" />
<rect x="49.26" y="315.90" width="16.10" height="15.20" fill="#3db54e" />
<rect x="49.26" y="331.10" width="16.10" height="1.50" fill="#105284" />
<rect x="67.42" y="304.00" width="16.10" height="2.00" fill="#ff8c00" />
<rect x="67.42" y="306.00" width="16.10" height="1.50" fill="#c61230" />
<rect x="67.42" y="307.50" width="16.10" height="24.50" fill="#3db54e" />
<rect x="67.42" y="332.00" width="16.10" height="0.60" fill="#105284" />
<rect x="85.58" y="304.90" width="16.10" height="1.60" fill="#ff8c00" />
<rect x="85.58" y="306.50" width="16.10" height="1.00" fill="#c61230" />
<rect x="85.58" y="307.50" width="16.10" height="23.60" fill="#3db54e" />
<rect x="85.58" y="331.10" width="16.10" height="1.50" fill="#105284" />
<rect x="103.74" y="278.50" width="16.10" height="3.30" fill="#ff8c00" />
<rect x="103.74" y="281.80" width="16.10" height="3.40" fill="#c61230" />
<rect x="103.74" y="285.20" width="16.10" height="46.50" fill="#3db54e" />
<rect x="103.74" y="331.70" width="16.10" height="0.90" fill="#105284" />
<rect x="121.90" y="298.40" width="16.10" height="2.50" fill="#ff8c00" />
<rect x="121.90" y="300.90" width="16.10" height="1.80" fill="#c61230" />
<rect x="121.90" y="302.70" width="16.10" height="29.90" fill="#3db54e" />
<rect x="140.06" y="299.00" width="16.10" height="0.80" fill="#ff8c00" />
<rect x="140.06" y="299.80" width="16.10" height="1.60" fill="#c61230" />
<rect x="140.06" y="301.40" width="16.10" height="30.60" fill="#3db54e" />
<rect x="140.06" y="332.00" width="16.10" height="0.60" fill="#4b1a6b" />
<rect x="158.22" y="312.70" width="16.10" height="0.80" fill="#ff8c00" />
<rect x="158.22" y="313.50" width="16.10" height="0.80" fill="#c61230" />
<rect x="158.22" y="314.30" width="16.10" height="18.30" fill="#3db54e" />
<rect x="30.80" y="335.65" width="145.12" height="175.05" fill="#cfcfd1" />
<rect x="31.10" y="335.90" width="17.40" height="3.40" fill="#3db54e" />
<rect x="31.10" y="337.00" width="17.40" height="1.50" fill="#8b7fc7" />
<rect x="49.26" y="335.90" width="17.40" height="3.40" fill="#bebdc1" />
<rect x="67.42" y="335.90" width="17.40" height="3.40" fill="#bebdc1" />
<rect x="67.42" y="336.70" width="17.40" height="2.00" fill="#8b7fc7" />
<rect x="85.58" y="335.90" width="17.40" height="3.40" fill="#3db54e" />
<rect x="85.58" y="337.00" width="17.40" height="1.50" fill="#8b7fc7" />
<rect x="103.74" y="335.90" width="17.40" height="3.40" fill="#3db54e" />
<rect x="121.90" y="335.90" width="17.40" height="3.40" fill="#3db54e" />
<rect x="140.06" y="335.90" width="17.40" height="3.40" fill="#3db54e" />
<rect x="140.06" y="337.00" width="17.40" height="1.50" fill="#8b7fc7" />
<rect x="158.22" y="335.90" width="17.40" height="3.40" fill="#bebdc1" />
<text x="29.20" y="339.00" font-size="4.0" text-anchor="end" fill="#222" stroke="#222" stroke-width="0.080" font-style="italic">BCL2</text>
<text x="176.80" y="338.90" font-size="3.6" text-anchor="start" fill="#111" stroke="#111" stroke-width="0.100" >75%</text>
<rect x="31.10" y="339.79" width="17.40" height="3.40" fill="#3db54e" />
<rect x="49.26" y="339.79" width="17.40" height="3.40" fill="#3db54e" />
<rect x="67.42" y="339.79" width="17.40" height="3.40" fill="#3db54e" />
<rect x="85.58" y="339.79" width="17.40" height="3.40" fill="#bebdc1" />
<rect x="103.74" y="339.79" width="17.40" height="3.40" fill="#bebdc1" />
<rect x="121.90" y="339.79" width="17.40" height="3.40" fill="#bebdc1" />
<rect x="140.06" y="339.79" width="17.40" height="3.40" fill="#3db54e" />
<rect x="158.22" y="339.79" width="17.40" height="3.40" fill="#3db54e" />
<text x="29.20" y="342.89" font-size="4.0" text-anchor="end" fill="#222" stroke="#222" stroke-width="0.080" font-style="italic">MYC</text>
<text x="176.80" y="342.79" font-size="3.6" text-anchor="start" fill="#111" stroke="#111" stroke-width="0.100" >62%</text>
<rect x="31.10" y="343.68" width="17.40" height="3.40" fill="#ff8c00" />
<rect x="49.26" y="343.68" width="17.40" height="3.40" fill="#bebdc1" />
<rect x="67.42" y="343.68" width="17.40" height="3.40" fill="#3db54e" />
<rect x="85.58" y="343.68" width="17.40" height="3.40" fill="#ff8c00" />
<rect x="103.74" y="343.68" width="17.40" height="3.40" fill="#105284" />
<rect x="121.90" y="343.68" width="17.40" height="3.40" fill="#bebdc1" />
<rect x="140.06" y="343.68" width="17.40" height="3.40" fill="#c61230" />
<rect x="158.22" y="343.68" width="17.40" height="3.40" fill="#bebdc1" />
<text x="29.20" y="346.78" font-size="4.0" text-anchor="end" fill="#222" stroke="#222" stroke-width="0.080" font-style="italic">CREBBP</text>
<text x="176.80" y="346.68" font-size="3.6" text-anchor="start" fill="#111" stroke="#111" stroke-width="0.100" >62%</text>
<rect x="31.10" y="347.57" width="17.40" height="3.40" fill="#bebdc1" />
<rect x="49.26" y="347.57" width="17.40" height="3.40" fill="#c61230" />
<rect x="67.42" y="347.57" width="17.40" height="3.40" fill="#3db54e" />
<rect x="85.58" y="347.57" width="17.40" height="3.40" fill="#bebdc1" />
<rect x="103.74" y="347.57" width="17.40" height="3.40" fill="#bebdc1" />
<rect x="121.90" y="347.57" width="17.40" height="3.40" fill="#bebdc1" />
<rect x="140.06" y="347.57" width="17.40" height="3.40" fill="#3db54e" />
<rect x="158.22" y="347.57" width="17.40" height="3.40" fill="#3db54e" />
<text x="29.20" y="350.67" font-size="4.0" text-anchor="end" fill="#222" stroke="#222" stroke-width="0.080" font-style="italic">CCND3</text>
<text x="176.80" y="350.57" font-size="3.6" text-anchor="start" fill="#111" stroke="#111" stroke-width="0.100" >50%</text>
<rect x="31.10" y="351.46" width="17.40" height="3.40" fill="#bebdc1" />
<rect x="49.26" y="351.46" width="17.40" height="3.40" fill="#29abe2" />
<rect x="67.42" y="351.46" width="17.40" height="3.40" fill="#bebdc1" />
<rect x="85.58" y="351.46" width="17.40" height="3.40" fill="#29abe2" />
<rect x="103.74" y="351.46" width="17.40" height="3.40" fill="#c61230" />
<rect x="121.90" y="351.46" width="17.40" height="3.40" fill="#bebdc1" />
<rect x="140.06" y="351.46" width="17.40" height="3.40" fill="#bebdc1" />
<rect x="158.22" y="351.46" width="17.40" height="3.40" fill="#bebdc1" />
<text x="29.20" y="354.56" font-size="4.0" text-anchor="end" fill="#222" stroke="#222" stroke-width="0.080" font-style="italic">KMT2D</text>
<text x="176.80" y="354.46" font-size="3.6" text-anchor="start" fill="#111" stroke="#111" stroke-width="0.100" >38%</text>
<rect x="31.10" y="355.35" width="17.40" height="3.40" fill="#3db54e" />
<rect x="49.26" y="355.35" width="17.40" height="3.40" fill="#bebdc1" />
<rect x="67.42" y="355.35" width="17.40" height="3.40" fill="#3db54e" />
<rect x="85.58" y="355.35" width="17.40" height="3.40" fill="#bebdc1" />
<rect x="103.74" y="355.35" width="17.40" height="3.40" fill="#3db54e" />
<rect x="121.90" y="355.35" width="17.40" height="3.40" fill="#bebdc1" />
<rect x="140.06" y="355.35" width="17.40" height="3.40" fill="#bebdc1" />
<rect x="158.22" y="355.35" width="17.40" height="3.40" fill="#bebdc1" />
<text x="29.20" y="358.45" font-size="4.0" text-anchor="end" fill="#222" stroke="#222" stroke-width="0.080" font-style="italic">DOCK2</text>
<text x="176.80" y="358.35" font-size="3.6" text-anchor="start" fill="#111" stroke="#111" stroke-width="0.100" >38%</text>
<rect x="31.10" y="359.24" width="17.40" height="3.40" fill="#bebdc1" />
<rect x="49.26" y="359.24" width="17.40" height="3.40" fill="#bebdc1" />
<rect x="67.42" y="359.24" width="17.40" height="3.40" fill="#bebdc1" />
<rect x="85.58" y="359.24" width="17.40" height="3.40" fill="#bebdc1" />
<rect x="103.74" y="359.24" width="17.40" height="3.40" fill="#3db54e" />
<rect x="121.90" y="359.24" width="17.40" height="3.40" fill="#3db54e" />
<rect x="140.06" y="359.24" width="17.40" height="3.40" fill="#3db54e" />
<rect x="158.22" y="359.24" width="17.40" height="3.40" fill="#bebdc1" />
<text x="29.20" y="362.34" font-size="4.0" text-anchor="end" fill="#222" stroke="#222" stroke-width="0.080" font-style="italic">EZH2</text>
<text x="176.80" y="362.24" font-size="3.6" text-anchor="start" fill="#111" stroke="#111" stroke-width="0.100" >38%</text>
<rect x="31.10" y="363.13" width="17.40" height="3.40" fill="#bebdc1" />
<rect x="49.26" y="363.13" width="17.40" height="3.40" fill="#bebdc1" />
<rect x="67.42" y="363.13" width="17.40" height="3.40" fill="#bebdc1" />
<rect x="85.58" y="363.13" width="17.40" height="3.40" fill="#bebdc1" />
<rect x="103.74" y="363.13" width="17.40" height="3.40" fill="#3db54e" />
<rect x="121.90" y="363.13" width="17.40" height="3.40" fill="#3db54e" />
<rect x="140.06" y="363.13" width="17.40" height="3.40" fill="#3db54e" />
<rect x="158.22" y="363.13" width="17.40" height="3.40" fill="#bebdc1" />
<text x="29.20" y="366.23" font-size="4.0" text-anchor="end" fill="#222" stroke="#222" stroke-width="0.080" font-style="italic">HVCN1</text>
<text x="176.80" y="366.13" font-size="3.6" text-anchor="start" fill="#111" stroke="#111" stroke-width="0.100" >38%</text>
<rect x="31.10" y="367.02" width="17.40" height="3.40" fill="#bebdc1" />
<rect x="49.26" y="367.02" width="17.40" height="3.40" fill="#3db54e" />
<rect x="67.42" y="367.02" width="17.40" height="3.40" fill="#bebdc1" />
<rect x="85.58" y="367.02" width="17.40" height="3.40" fill="#bebdc1" />
<rect x="103.74" y="367.02" width="17.40" height="3.40" fill="#3db54e" />
<rect x="121.90" y="367.02" width="17.40" height="3.40" fill="#3db54e" />
<rect x="140.06" y="367.02" width="17.40" height="3.40" fill="#bebdc1" />
<rect x="158.22" y="367.02" width="17.40" height="3.40" fill="#bebdc1" />
<text x="29.20" y="370.12" font-size="4.0" text-anchor="end" fill="#222" stroke="#222" stroke-width="0.080" font-style="italic">PTPRC</text>
<text x="176.80" y="370.02" font-size="3.6" text-anchor="start" fill="#111" stroke="#111" stroke-width="0.100" >38%</text>
<rect x="31.10" y="370.91" width="17.40" height="3.40" fill="#bebdc1" />
<rect x="49.26" y="370.91" width="17.40" height="3.40" fill="#bebdc1" />
<rect x="67.42" y="370.91" width="17.40" height="3.40" fill="#3db54e" />
<rect x="85.58" y="370.91" width="17.40" height="3.40" fill="#3db54e" />
<rect x="103.74" y="370.91" width="17.40" height="3.40" fill="#bebdc1" />
<rect x="121.90" y="370.91" width="17.40" height="3.40" fill="#bebdc1" />
<rect x="140.06" y="370.91" width="17.40" height="3.40" fill="#3db54e" />
<rect x="158.22" y="370.91" width="17.40" height="3.40" fill="#bebdc1" />
<text x="29.20" y="374.01" font-size="4.0" text-anchor="end" fill="#222" stroke="#222" stroke-width="0.080" font-style="italic">SZT2</text>
<text x="176.80" y="373.91" font-size="3.6" text-anchor="start" fill="#111" stroke="#111" stroke-width="0.100" >38%</text>
<rect x="31.10" y="374.80" width="17.40" height="3.40" fill="#bebdc1" />
<rect x="49.26" y="374.80" width="17.40" height="3.40" fill="#bebdc1" />
<rect x="67.42" y="374.80" width="17.40" height="3.40" fill="#3db54e" />
<rect x="85.58" y="374.80" width="17.40" height="3.40" fill="#bebdc1" />
<rect x="103.74" y="374.80" width="17.40" height="3.40" fill="#bebdc1" />
<rect x="121.90" y="374.80" width="17.40" height="3.40" fill="#bebdc1" />
<rect x="140.06" y="374.80" width="17.40" height="3.40" fill="#bebdc1" />
<rect x="158.22" y="374.80" width="17.40" height="3.40" fill="#3db54e" />
<text x="29.20" y="377.90" font-size="4.0" text-anchor="end" fill="#222" stroke="#222" stroke-width="0.080" font-style="italic">NCOA6</text>
<text x="176.80" y="377.80" font-size="3.6" text-anchor="start" fill="#111" stroke="#111" stroke-width="0.100" >25%</text>
<rect x="31.10" y="378.69" width="17.40" height="3.40" fill="#bebdc1" />
<rect x="49.26" y="378.69" width="17.40" height="3.40" fill="#bebdc1" />
<rect x="67.42" y="378.69" width="17.40" height="3.40" fill="#bebdc1" />
<rect x="85.58" y="378.69" width="17.40" height="3.40" fill="#bebdc1" />
<rect x="103.74" y="378.69" width="17.40" height="3.40" fill="#3db54e" />
<rect x="121.90" y="378.69" width="17.40" height="3.40" fill="#bebdc1" />
<rect x="140.06" y="378.69" width="17.40" height="3.40" fill="#bebdc1" />
<rect x="158.22" y="378.69" width="17.40" height="3.40" fill="#3db54e" />
<text x="29.20" y="381.79" font-size="4.0" text-anchor="end" fill="#222" stroke="#222" stroke-width="0.080" font-style="italic">PTPRB</text>
<text x="176.80" y="381.69" font-size="3.6" text-anchor="start" fill="#111" stroke="#111" stroke-width="0.100" >25%</text>
<rect x="31.10" y="382.58" width="17.40" height="3.40" fill="#bebdc1" />
<rect x="49.26" y="382.58" width="17.40" height="3.40" fill="#bebdc1" />
<rect x="67.42" y="382.58" width="17.40" height="3.40" fill="#bebdc1" />
<rect x="85.58" y="382.58" width="17.40" height="3.40" fill="#bebdc1" />
<rect x="103.74" y="382.58" width="17.40" height="3.40" fill="#29abe2" />
<rect x="121.90" y="382.58" width="17.40" height="3.40" fill="#3db54e" />
<rect x="140.06" y="382.58" width="17.40" height="3.40" fill="#bebdc1" />
<rect x="158.22" y="382.58" width="17.40" height="3.40" fill="#bebdc1" />
<text x="29.20" y="385.68" font-size="4.0" text-anchor="end" fill="#222" stroke="#222" stroke-width="0.080" font-style="italic">TP53</text>
<text x="176.80" y="385.58" font-size="3.6" text-anchor="start" fill="#111" stroke="#111" stroke-width="0.100" >25%</text>
<rect x="31.10" y="386.47" width="17.40" height="3.40" fill="#bebdc1" />
<rect x="49.26" y="386.47" width="17.40" height="3.40" fill="#3db54e" />
<rect x="67.42" y="386.47" width="17.40" height="3.40" fill="#bebdc1" />
<rect x="85.58" y="386.47" width="17.40" height="3.40" fill="#bebdc1" />
<rect x="103.74" y="386.47" width="17.40" height="3.40" fill="#29abe2" />
<rect x="121.90" y="386.47" width="17.40" height="3.40" fill="#bebdc1" />
<rect x="140.06" y="386.47" width="17.40" height="3.40" fill="#bebdc1" />
<rect x="158.22" y="386.47" width="17.40" height="3.40" fill="#bebdc1" />
<text x="29.20" y="389.57" font-size="4.0" text-anchor="end" fill="#222" stroke="#222" stroke-width="0.080" font-style="italic">TRERF1</text>
<text x="176.80" y="389.47" font-size="3.6" text-anchor="start" fill="#111" stroke="#111" stroke-width="0.100" >25%</text>
<rect x="31.10" y="390.36" width="17.40" height="3.40" fill="#bebdc1" />
<rect x="49.26" y="390.36" width="17.40" height="3.40" fill="#3db54e" />
<rect x="67.42" y="390.36" width="17.40" height="3.40" fill="#3db54e" />
<rect x="85.58" y="390.36" width="17.40" height="3.40" fill="#bebdc1" />
<rect x="103.74" y="390.36" width="17.40" height="3.40" fill="#bebdc1" />
<rect x="121.90" y="390.36" width="17.40" height="3.40" fill="#bebdc1" />
<rect x="140.06" y="390.36" width="17.40" height="3.40" fill="#bebdc1" />
<rect x="158.22" y="390.36" width="17.40" height="3.40" fill="#bebdc1" />
<text x="29.20" y="393.46" font-size="4.0" text-anchor="end" fill="#222" stroke="#222" stroke-width="0.080" font-style="italic">ACIN1</text>
<text x="176.80" y="393.36" font-size="3.6" text-anchor="start" fill="#111" stroke="#111" stroke-width="0.100" >25%</text>
<rect x="31.10" y="394.25" width="17.40" height="3.40" fill="#bebdc1" />
<rect x="49.26" y="394.25" width="17.40" height="3.40" fill="#3db54e" />
<rect x="67.42" y="394.25" width="17.40" height="3.40" fill="#bebdc1" />
<rect x="85.58" y="394.25" width="17.40" height="3.40" fill="#3db54e" />
<rect x="103.74" y="394.25" width="17.40" height="3.40" fill="#bebdc1" />
<rect x="121.90" y="394.25" width="17.40" height="3.40" fill="#bebdc1" />
<rect x="140.06" y="394.25" width="17.40" height="3.40" fill="#bebdc1" />
<rect x="158.22" y="394.25" width="17.40" height="3.40" fill="#bebdc1" />
<text x="29.20" y="397.35" font-size="4.0" text-anchor="end" fill="#222" stroke="#222" stroke-width="0.080" font-style="italic">ADAMTS9</text>
<text x="176.80" y="397.25" font-size="3.6" text-anchor="start" fill="#111" stroke="#111" stroke-width="0.100" >25%</text>
<rect x="31.10" y="398.14" width="17.40" height="3.40" fill="#3db54e" />
<rect x="49.26" y="398.14" width="17.40" height="3.40" fill="#bebdc1" />
<rect x="67.42" y="398.14" width="17.40" height="3.40" fill="#bebdc1" />
<rect x="85.58" y="398.14" width="17.40" height="3.40" fill="#bebdc1" />
<rect x="103.74" y="398.14" width="17.40" height="3.40" fill="#bebdc1" />
<rect x="121.90" y="398.14" width="17.40" height="3.40" fill="#bebdc1" />
<rect x="140.06" y="398.14" width="17.40" height="3.40" fill="#3db54e" />
<rect x="158.22" y="398.14" width="17.40" height="3.40" fill="#bebdc1" />
<text x="29.20" y="401.24" font-size="4.0" text-anchor="end" fill="#222" stroke="#222" stroke-width="0.080" font-style="italic">ADCY8</text>
<text x="176.80" y="401.14" font-size="3.6" text-anchor="start" fill="#111" stroke="#111" stroke-width="0.100" >25%</text>
<rect x="31.10" y="402.03" width="17.40" height="3.40" fill="#c61230" />
<rect x="49.26" y="402.03" width="17.40" height="3.40" fill="#bebdc1" />
<rect x="67.42" y="402.03" width="17.40" height="3.40" fill="#bebdc1" />
<rect x="85.58" y="402.03" width="17.40" height="3.40" fill="#bebdc1" />
<rect x="103.74" y="402.03" width="17.40" height="3.40" fill="#c61230" />
<rect x="121.90" y="402.03" width="17.40" height="3.40" fill="#bebdc1" />
<rect x="140.06" y="402.03" width="17.40" height="3.40" fill="#bebdc1" />
<rect x="158.22" y="402.03" width="17.40" height="3.40" fill="#bebdc1" />
<text x="29.20" y="405.13" font-size="4.0" text-anchor="end" fill="#222" stroke="#222" stroke-width="0.080" font-style="italic">ARID1A</text>
<text x="176.80" y="405.03" font-size="3.6" text-anchor="start" fill="#111" stroke="#111" stroke-width="0.100" >25%</text>
<rect x="31.10" y="405.92" width="17.40" height="3.40" fill="#bebdc1" />
<rect x="49.26" y="405.92" width="17.40" height="3.40" fill="#bebdc1" />
<rect x="67.42" y="405.92" width="17.40" height="3.40" fill="#bebdc1" />
<rect x="85.58" y="405.92" width="17.40" height="3.40" fill="#bebdc1" />
<rect x="103.74" y="405.92" width="17.40" height="3.40" fill="#bebdc1" />
<rect x="121.90" y="405.92" width="17.40" height="3.40" fill="#3db54e" />
<rect x="140.06" y="405.92" width="17.40" height="3.40" fill="#bebdc1" />
<rect x="158.22" y="405.92" width="17.40" height="3.40" fill="#3db54e" />
<text x="29.20" y="409.02" font-size="4.0" text-anchor="end" fill="#222" stroke="#222" stroke-width="0.080" font-style="italic">ARID2</text>
<text x="176.80" y="408.92" font-size="3.6" text-anchor="start" fill="#111" stroke="#111" stroke-width="0.100" >25%</text>
<rect x="31.10" y="409.81" width="17.40" height="3.40" fill="#bebdc1" />
<rect x="49.26" y="409.81" width="17.40" height="3.40" fill="#bebdc1" />
<rect x="67.42" y="409.81" width="17.40" height="3.40" fill="#3db54e" />
<rect x="85.58" y="409.81" width="17.40" height="3.40" fill="#bebdc1" />
<rect x="103.74" y="409.81" width="17.40" height="3.40" fill="#bebdc1" />
<rect x="121.90" y="409.81" width="17.40" height="3.40" fill="#3db54e" />
<rect x="140.06" y="409.81" width="17.40" height="3.40" fill="#bebdc1" />
<rect x="158.22" y="409.81" width="17.40" height="3.40" fill="#bebdc1" />
<text x="29.20" y="412.91" font-size="4.0" text-anchor="end" fill="#222" stroke="#222" stroke-width="0.080" font-style="italic">ARL3A</text>
<text x="176.80" y="412.81" font-size="3.6" text-anchor="start" fill="#111" stroke="#111" stroke-width="0.100" >25%</text>
<rect x="31.10" y="413.70" width="17.40" height="3.40" fill="#bebdc1" />
<rect x="49.26" y="413.70" width="17.40" height="3.40" fill="#3db54e" />
<rect x="67.42" y="413.70" width="17.40" height="3.40" fill="#bebdc1" />
<rect x="85.58" y="413.70" width="17.40" height="3.40" fill="#bebdc1" />
<rect x="103.74" y="413.70" width="17.40" height="3.40" fill="#bebdc1" />
<rect x="121.90" y="413.70" width="17.40" height="3.40" fill="#3db54e" />
<rect x="140.06" y="413.70" width="17.40" height="3.40" fill="#bebdc1" />
<rect x="158.22" y="413.70" width="17.40" height="3.40" fill="#bebdc1" />
<text x="29.20" y="416.80" font-size="4.0" text-anchor="end" fill="#222" stroke="#222" stroke-width="0.080" font-style="italic">CD163</text>
<text x="176.80" y="416.70" font-size="3.6" text-anchor="start" fill="#111" stroke="#111" stroke-width="0.100" >25%</text>
<rect x="31.10" y="417.59" width="17.40" height="3.40" fill="#bebdc1" />
<rect x="49.26" y="417.59" width="17.40" height="3.40" fill="#bebdc1" />
<rect x="67.42" y="417.59" width="17.40" height="3.40" fill="#bebdc1" />
<rect x="85.58" y="417.59" width="17.40" height="3.40" fill="#3db54e" />
<rect x="103.74" y="417.59" width="17.40" height="3.40" fill="#bebdc1" />
<rect x="121.90" y="417.59" width="17.40" height="3.40" fill="#bebdc1" />
<rect x="140.06" y="417.59" width="17.40" height="3.40" fill="#bebdc1" />
<rect x="158.22" y="417.59" width="17.40" height="3.40" fill="#3db54e" />
<text x="29.20" y="420.69" font-size="4.0" text-anchor="end" fill="#222" stroke="#222" stroke-width="0.080" font-style="italic">CRYBG3</text>
<text x="176.80" y="420.59" font-size="3.6" text-anchor="start" fill="#111" stroke="#111" stroke-width="0.100" >25%</text>
<rect x="31.10" y="421.48" width="17.40" height="3.40" fill="#bebdc1" />
<rect x="49.26" y="421.48" width="17.40" height="3.40" fill="#bebdc1" />
<rect x="67.42" y="421.48" width="17.40" height="3.40" fill="#bebdc1" />
<rect x="85.58" y="421.48" width="17.40" height="3.40" fill="#bebdc1" />
<rect x="103.74" y="421.48" width="17.40" height="3.40" fill="#bebdc1" />
<rect x="121.90" y="421.48" width="17.40" height="3.40" fill="#3db54e" />
<rect x="140.06" y="421.48" width="17.40" height="3.40" fill="#3db54e" />
<rect x="158.22" y="421.48" width="17.40" height="3.40" fill="#bebdc1" />
<text x="29.20" y="424.58" font-size="4.0" text-anchor="end" fill="#222" stroke="#222" stroke-width="0.080" font-style="italic">DNAH3</text>
<text x="176.80" y="424.48" font-size="3.6" text-anchor="start" fill="#111" stroke="#111" stroke-width="0.100" >25%</text>
<rect x="31.10" y="425.37" width="17.40" height="3.40" fill="#bebdc1" />
<rect x="49.26" y="425.37" width="17.40" height="3.40" fill="#bebdc1" />
<rect x="67.42" y="425.37" width="17.40" height="3.40" fill="#bebdc1" />
<rect x="85.58" y="425.37" width="17.40" height="3.40" fill="#105284" />
<rect x="103.74" y="425.37" width="17.40" height="3.40" fill="#bebdc1" />
<rect x="121.90" y="425.37" width="17.40" height="3.40" fill="#bebdc1" />
<rect x="140.06" y="425.37" width="17.40" height="3.40" fill="#3db54e" />
<rect x="158.22" y="425.37" width="17.40" height="3.40" fill="#bebdc1" />
<text x="29.20" y="428.47" font-size="4.0" text-anchor="end" fill="#222" stroke="#222" stroke-width="0.080" font-style="italic">DNMT3B</text>
<text x="176.80" y="428.37" font-size="3.6" text-anchor="start" fill="#111" stroke="#111" stroke-width="0.100" >25%</text>
<rect x="31.10" y="429.26" width="17.40" height="3.40" fill="#bebdc1" />
<rect x="49.26" y="429.26" width="17.40" height="3.40" fill="#bebdc1" />
<rect x="67.42" y="429.26" width="17.40" height="3.40" fill="#bebdc1" />
<rect x="85.58" y="429.26" width="17.40" height="3.40" fill="#bebdc1" />
<rect x="103.74" y="429.26" width="17.40" height="3.40" fill="#3db54e" />
<rect x="121.90" y="429.26" width="17.40" height="3.40" fill="#bebdc1" />
<rect x="140.06" y="429.26" width="17.40" height="3.40" fill="#3db54e" />
<rect x="158.22" y="429.26" width="17.40" height="3.40" fill="#bebdc1" />
<text x="29.20" y="432.36" font-size="4.0" text-anchor="end" fill="#222" stroke="#222" stroke-width="0.080" font-style="italic">DOCK10</text>
<text x="176.80" y="432.26" font-size="3.6" text-anchor="start" fill="#111" stroke="#111" stroke-width="0.100" >25%</text>
<rect x="31.10" y="433.15" width="17.40" height="3.40" fill="#bebdc1" />
<rect x="49.26" y="433.15" width="17.40" height="3.40" fill="#3db54e" />
<rect x="67.42" y="433.15" width="17.40" height="3.40" fill="#bebdc1" />
<rect x="85.58" y="433.15" width="17.40" height="3.40" fill="#bebdc1" />
<rect x="103.74" y="433.15" width="17.40" height="3.40" fill="#3db54e" />
<rect x="121.90" y="433.15" width="17.40" height="3.40" fill="#bebdc1" />
<rect x="140.06" y="433.15" width="17.40" height="3.40" fill="#bebdc1" />
<rect x="158.22" y="433.15" width="17.40" height="3.40" fill="#bebdc1" />
<text x="29.20" y="436.25" font-size="4.0" text-anchor="end" fill="#222" stroke="#222" stroke-width="0.080" font-style="italic">EP300</text>
<text x="176.80" y="436.15" font-size="3.6" text-anchor="start" fill="#111" stroke="#111" stroke-width="0.100" >25%</text>
<rect x="31.10" y="437.04" width="17.40" height="3.40" fill="#bebdc1" />
<rect x="49.26" y="437.04" width="17.40" height="3.40" fill="#bebdc1" />
<rect x="67.42" y="437.04" width="17.40" height="3.40" fill="#bebdc1" />
<rect x="85.58" y="437.04" width="17.40" height="3.40" fill="#3db54e" />
<rect x="103.74" y="437.04" width="17.40" height="3.40" fill="#3db54e" />
<rect x="121.90" y="437.04" width="17.40" height="3.40" fill="#bebdc1" />
<rect x="140.06" y="437.04" width="17.40" height="3.40" fill="#bebdc1" />
<rect x="158.22" y="437.04" width="17.40" height="3.40" fill="#bebdc1" />
<text x="29.20" y="440.14" font-size="4.0" text-anchor="end" fill="#222" stroke="#222" stroke-width="0.080" font-style="italic">FAT1</text>
<text x="176.80" y="440.04" font-size="3.6" text-anchor="start" fill="#111" stroke="#111" stroke-width="0.100" >25%</text>
<rect x="31.10" y="440.93" width="17.40" height="3.40" fill="#3db54e" />
<rect x="49.26" y="440.93" width="17.40" height="3.40" fill="#bebdc1" />
<rect x="67.42" y="440.93" width="17.40" height="3.40" fill="#bebdc1" />
<rect x="85.58" y="440.93" width="17.40" height="3.40" fill="#bebdc1" />
<rect x="103.74" y="440.93" width="17.40" height="3.40" fill="#3db54e" />
<rect x="121.90" y="440.93" width="17.40" height="3.40" fill="#bebdc1" />
<rect x="140.06" y="440.93" width="17.40" height="3.40" fill="#bebdc1" />
<rect x="158.22" y="440.93" width="17.40" height="3.40" fill="#bebdc1" />
<text x="29.20" y="444.03" font-size="4.0" text-anchor="end" fill="#222" stroke="#222" stroke-width="0.080" font-style="italic">FAT4</text>
<text x="176.80" y="443.93" font-size="3.6" text-anchor="start" fill="#111" stroke="#111" stroke-width="0.100" >25%</text>
<rect x="31.10" y="444.82" width="17.40" height="3.40" fill="#bebdc1" />
<rect x="49.26" y="444.82" width="17.40" height="3.40" fill="#bebdc1" />
<rect x="67.42" y="444.82" width="17.40" height="3.40" fill="#bebdc1" />
<rect x="85.58" y="444.82" width="17.40" height="3.40" fill="#bebdc1" />
<rect x="103.74" y="444.82" width="17.40" height="3.40" fill="#3db54e" />
<rect x="121.90" y="444.82" width="17.40" height="3.40" fill="#3db54e" />
<rect x="140.06" y="444.82" width="17.40" height="3.40" fill="#bebdc1" />
<rect x="158.22" y="444.82" width="17.40" height="3.40" fill="#bebdc1" />
<text x="29.20" y="447.92" font-size="4.0" text-anchor="end" fill="#222" stroke="#222" stroke-width="0.080" font-style="italic">HHIPL2</text>
<text x="176.80" y="447.82" font-size="3.6" text-anchor="start" fill="#111" stroke="#111" stroke-width="0.100" >25%</text>
<rect x="31.10" y="448.71" width="17.40" height="3.40" fill="#3db54e" />
<rect x="49.26" y="448.71" width="17.40" height="3.40" fill="#bebdc1" />
<rect x="67.42" y="448.71" width="17.40" height="3.40" fill="#bebdc1" />
<rect x="85.58" y="448.71" width="17.40" height="3.40" fill="#3db54e" />
<rect x="103.74" y="448.71" width="17.40" height="3.40" fill="#bebdc1" />
<rect x="121.90" y="448.71" width="17.40" height="3.40" fill="#bebdc1" />
<rect x="140.06" y="448.71" width="17.40" height="3.40" fill="#bebdc1" />
<rect x="158.22" y="448.71" width="17.40" height="3.40" fill="#bebdc1" />
<text x="29.20" y="451.81" font-size="4.0" text-anchor="end" fill="#222" stroke="#222" stroke-width="0.080" font-style="italic">HYDIN</text>
<text x="176.80" y="451.71" font-size="3.6" text-anchor="start" fill="#111" stroke="#111" stroke-width="0.100" >25%</text>
<rect x="31.10" y="452.60" width="17.40" height="3.40" fill="#3db54e" />
<rect x="49.26" y="452.60" width="17.40" height="3.40" fill="#3db54e" />
<rect x="67.42" y="452.60" width="17.40" height="3.40" fill="#bebdc1" />
<rect x="85.58" y="452.60" width="17.40" height="3.40" fill="#bebdc1" />
<rect x="103.74" y="452.60" width="17.40" height="3.40" fill="#bebdc1" />
<rect x="121.90" y="452.60" width="17.40" height="3.40" fill="#bebdc1" />
<rect x="140.06" y="452.60" width="17.40" height="3.40" fill="#bebdc1" />
<rect x="158.22" y="452.60" width="17.40" height="3.40" fill="#bebdc1" />
<text x="29.20" y="455.70" font-size="4.0" text-anchor="end" fill="#222" stroke="#222" stroke-width="0.080" font-style="italic">KLHL14</text>
<text x="176.80" y="455.60" font-size="3.6" text-anchor="start" fill="#111" stroke="#111" stroke-width="0.100" >25%</text>
<rect x="31.10" y="456.49" width="17.40" height="3.40" fill="#bebdc1" />
<rect x="49.26" y="456.49" width="17.40" height="3.40" fill="#bebdc1" />
<rect x="67.42" y="456.49" width="17.40" height="3.40" fill="#3db54e" />
<rect x="85.58" y="456.49" width="17.40" height="3.40" fill="#3db54e" />
<rect x="103.74" y="456.49" width="17.40" height="3.40" fill="#bebdc1" />
<rect x="121.90" y="456.49" width="17.40" height="3.40" fill="#bebdc1" />
<rect x="140.06" y="456.49" width="17.40" height="3.40" fill="#bebdc1" />
<rect x="158.22" y="456.49" width="17.40" height="3.40" fill="#bebdc1" />
<text x="29.20" y="459.59" font-size="4.0" text-anchor="end" fill="#222" stroke="#222" stroke-width="0.080" font-style="italic">LGSL2</text>
<text x="176.80" y="459.49" font-size="3.6" text-anchor="start" fill="#111" stroke="#111" stroke-width="0.100" >25%</text>
<rect x="31.10" y="460.38" width="17.40" height="3.40" fill="#bebdc1" />
<rect x="49.26" y="460.38" width="17.40" height="3.40" fill="#bebdc1" />
<rect x="67.42" y="460.38" width="17.40" height="3.40" fill="#bebdc1" />
<rect x="85.58" y="460.38" width="17.40" height="3.40" fill="#bebdc1" />
<rect x="103.74" y="460.38" width="17.40" height="3.40" fill="#bebdc1" />
<rect x="121.90" y="460.38" width="17.40" height="3.40" fill="#3db54e" />
<rect x="140.06" y="460.38" width="17.40" height="3.40" fill="#bebdc1" />
<rect x="158.22" y="460.38" width="17.40" height="3.40" fill="#3db54e" />
<text x="29.20" y="463.48" font-size="4.0" text-anchor="end" fill="#222" stroke="#222" stroke-width="0.080" font-style="italic">LRRC7</text>
<text x="176.80" y="463.38" font-size="3.6" text-anchor="start" fill="#111" stroke="#111" stroke-width="0.100" >25%</text>
<rect x="31.10" y="464.27" width="17.40" height="3.40" fill="#3db54e" />
<rect x="49.26" y="464.27" width="17.40" height="3.40" fill="#bebdc1" />
<rect x="67.42" y="464.27" width="17.40" height="3.40" fill="#bebdc1" />
<rect x="85.58" y="464.27" width="17.40" height="3.40" fill="#bebdc1" />
<rect x="103.74" y="464.27" width="17.40" height="3.40" fill="#bebdc1" />
<rect x="121.90" y="464.27" width="17.40" height="3.40" fill="#bebdc1" />
<rect x="140.06" y="464.27" width="17.40" height="3.40" fill="#bebdc1" />
<rect x="158.22" y="464.27" width="17.40" height="3.40" fill="#3db54e" />
<text x="29.20" y="467.37" font-size="4.0" text-anchor="end" fill="#222" stroke="#222" stroke-width="0.080" font-style="italic">MED12</text>
<text x="176.80" y="467.27" font-size="3.6" text-anchor="start" fill="#111" stroke="#111" stroke-width="0.100" >25%</text>
<rect x="31.10" y="468.16" width="17.40" height="3.40" fill="#bebdc1" />
<rect x="49.26" y="468.16" width="17.40" height="3.40" fill="#bebdc1" />
<rect x="67.42" y="468.16" width="17.40" height="3.40" fill="#bebdc1" />
<rect x="85.58" y="468.16" width="17.40" height="3.40" fill="#3db54e" />
<rect x="103.74" y="468.16" width="17.40" height="3.40" fill="#bebdc1" />
<rect x="121.90" y="468.16" width="17.40" height="3.40" fill="#3db54e" />
<rect x="140.06" y="468.16" width="17.40" height="3.40" fill="#bebdc1" />
<rect x="158.22" y="468.16" width="17.40" height="3.40" fill="#bebdc1" />
<text x="29.20" y="471.26" font-size="4.0" text-anchor="end" fill="#222" stroke="#222" stroke-width="0.080" font-style="italic">MTMR1</text>
<text x="176.80" y="471.16" font-size="3.6" text-anchor="start" fill="#111" stroke="#111" stroke-width="0.100" >25%</text>
<rect x="31.10" y="472.05" width="17.40" height="3.40" fill="#bebdc1" />
<rect x="49.26" y="472.05" width="17.40" height="3.40" fill="#bebdc1" />
<rect x="67.42" y="472.05" width="17.40" height="3.40" fill="#bebdc1" />
<rect x="85.58" y="472.05" width="17.40" height="3.40" fill="#bebdc1" />
<rect x="103.74" y="472.05" width="17.40" height="3.40" fill="#3db54e" />
<rect x="121.90" y="472.05" width="17.40" height="3.40" fill="#3db54e" />
<rect x="140.06" y="472.05" width="17.40" height="3.40" fill="#bebdc1" />
<rect x="158.22" y="472.05" width="17.40" height="3.40" fill="#bebdc1" />
<text x="29.20" y="475.15" font-size="4.0" text-anchor="end" fill="#222" stroke="#222" stroke-width="0.080" font-style="italic">NCSTN</text>
<text x="176.80" y="475.05" font-size="3.6" text-anchor="start" fill="#111" stroke="#111" stroke-width="0.100" >25%</text>
<rect x="31.10" y="475.94" width="17.40" height="3.40" fill="#3db54e" />
<rect x="49.26" y="475.94" width="17.40" height="3.40" fill="#bebdc1" />
<rect x="67.42" y="475.94" width="17.40" height="3.40" fill="#bebdc1" />
<rect x="85.58" y="475.94" width="17.40" height="3.40" fill="#3db54e" />
<rect x="103.74" y="475.94" width="17.40" height="3.40" fill="#bebdc1" />
<rect x="121.90" y="475.94" width="17.40" height="3.40" fill="#bebdc1" />
<rect x="140.06" y="475.94" width="17.40" height="3.40" fill="#bebdc1" />
<rect x="158.22" y="475.94" width="17.40" height="3.40" fill="#bebdc1" />
<text x="29.20" y="479.04" font-size="4.0" text-anchor="end" fill="#222" stroke="#222" stroke-width="0.080" font-style="italic">PEG3</text>
<text x="176.80" y="478.94" font-size="3.6" text-anchor="start" fill="#111" stroke="#111" stroke-width="0.100" >25%</text>
<rect x="31.10" y="479.83" width="17.40" height="3.40" fill="#bebdc1" />
<rect x="49.26" y="479.83" width="17.40" height="3.40" fill="#bebdc1" />
<rect x="67.42" y="479.83" width="17.40" height="3.40" fill="#bebdc1" />
<rect x="85.58" y="479.83" width="17.40" height="3.40" fill="#bebdc1" />
<rect x="103.74" y="479.83" width="17.40" height="3.40" fill="#3db54e" />
<rect x="121.90" y="479.83" width="17.40" height="3.40" fill="#3db54e" />
<rect x="140.06" y="479.83" width="17.40" height="3.40" fill="#bebdc1" />
<rect x="158.22" y="479.83" width="17.40" height="3.40" fill="#bebdc1" />
<text x="29.20" y="482.93" font-size="4.0" text-anchor="end" fill="#222" stroke="#222" stroke-width="0.080" font-style="italic">RNF17</text>
<text x="176.80" y="482.83" font-size="3.6" text-anchor="start" fill="#111" stroke="#111" stroke-width="0.100" >25%</text>
<rect x="31.10" y="483.72" width="17.40" height="3.40" fill="#bebdc1" />
<rect x="49.26" y="483.72" width="17.40" height="3.40" fill="#bebdc1" />
<rect x="67.42" y="483.72" width="17.40" height="3.40" fill="#bebdc1" />
<rect x="85.58" y="483.72" width="17.40" height="3.40" fill="#3db54e" />
<rect x="103.74" y="483.72" width="17.40" height="3.40" fill="#bebdc1" />
<rect x="121.90" y="483.72" width="17.40" height="3.40" fill="#3db54e" />
<rect x="140.06" y="483.72" width="17.40" height="3.40" fill="#bebdc1" />
<rect x="158.22" y="483.72" width="17.40" height="3.40" fill="#bebdc1" />
<text x="29.20" y="486.82" font-size="4.0" text-anchor="end" fill="#222" stroke="#222" stroke-width="0.080" font-style="italic">ROBO2</text>
<text x="176.80" y="486.72" font-size="3.6" text-anchor="start" fill="#111" stroke="#111" stroke-width="0.100" >25%</text>
<rect x="31.10" y="487.61" width="17.40" height="3.40" fill="#bebdc1" />
<rect x="49.26" y="487.61" width="17.40" height="3.40" fill="#bebdc1" />
<rect x="67.42" y="487.61" width="17.40" height="3.40" fill="#3db54e" />
<rect x="85.58" y="487.61" width="17.40" height="3.40" fill="#3db54e" />
<rect x="103.74" y="487.61" width="17.40" height="3.40" fill="#bebdc1" />
<rect x="121.90" y="487.61" width="17.40" height="3.40" fill="#bebdc1" />
<rect x="140.06" y="487.61" width="17.40" height="3.40" fill="#bebdc1" />
<rect x="158.22" y="487.61" width="17.40" height="3.40" fill="#bebdc1" />
<text x="29.20" y="490.71" font-size="4.0" text-anchor="end" fill="#222" stroke="#222" stroke-width="0.080" font-style="italic">RSBN1</text>
<text x="176.80" y="490.61" font-size="3.6" text-anchor="start" fill="#111" stroke="#111" stroke-width="0.100" >25%</text>
<rect x="31.10" y="491.50" width="17.40" height="3.40" fill="#bebdc1" />
<rect x="49.26" y="491.50" width="17.40" height="3.40" fill="#bebdc1" />
<rect x="67.42" y="491.50" width="17.40" height="3.40" fill="#3db54e" />
<rect x="85.58" y="491.50" width="17.40" height="3.40" fill="#bebdc1" />
<rect x="103.74" y="491.50" width="17.40" height="3.40" fill="#bebdc1" />
<rect x="121.90" y="491.50" width="17.40" height="3.40" fill="#bebdc1" />
<rect x="140.06" y="491.50" width="17.40" height="3.40" fill="#3db54e" />
<rect x="158.22" y="491.50" width="17.40" height="3.40" fill="#bebdc1" />
<text x="29.20" y="494.60" font-size="4.0" text-anchor="end" fill="#222" stroke="#222" stroke-width="0.080" font-style="italic">SHROOM4</text>
<text x="176.80" y="494.50" font-size="3.6" text-anchor="start" fill="#111" stroke="#111" stroke-width="0.100" >25%</text>
<rect x="31.10" y="495.39" width="17.40" height="3.40" fill="#bebdc1" />
<rect x="49.26" y="495.39" width="17.40" height="3.40" fill="#bebdc1" />
<rect x="67.42" y="495.39" width="17.40" height="3.40" fill="#3db54e" />
<rect x="85.58" y="495.39" width="17.40" height="3.40" fill="#bebdc1" />
<rect x="103.74" y="495.39" width="17.40" height="3.40" fill="#bebdc1" />
<rect x="121.90" y="495.39" width="17.40" height="3.40" fill="#bebdc1" />
<rect x="140.06" y="495.39" width="17.40" height="3.40" fill="#3db54e" />
<rect x="158.22" y="495.39" width="17.40" height="3.40" fill="#bebdc1" />
<text x="29.20" y="498.49" font-size="4.0" text-anchor="end" fill="#222" stroke="#222" stroke-width="0.080" font-style="italic">STAT6</text>
<text x="176.80" y="498.39" font-size="3.6" text-anchor="start" fill="#111" stroke="#111" stroke-width="0.100" >25%</text>
<rect x="31.10" y="499.28" width="17.40" height="3.40" fill="#bebdc1" />
<rect x="49.26" y="499.28" width="17.40" height="3.40" fill="#bebdc1" />
<rect x="67.42" y="499.28" width="17.40" height="3.40" fill="#ff8c00" />
<rect x="85.58" y="499.28" width="17.40" height="3.40" fill="#bebdc1" />
<rect x="103.74" y="499.28" width="17.40" height="3.40" fill="#bebdc1" />
<rect x="121.90" y="499.28" width="17.40" height="3.40" fill="#bebdc1" />
<rect x="140.06" y="499.28" width="17.40" height="3.40" fill="#ff8c00" />
<rect x="158.22" y="499.28" width="17.40" height="3.40" fill="#bebdc1" />
<text x="29.20" y="502.38" font-size="4.0" text-anchor="end" fill="#222" stroke="#222" stroke-width="0.080" font-style="italic">TPO</text>
<text x="176.80" y="502.28" font-size="3.6" text-anchor="start" fill="#111" stroke="#111" stroke-width="0.100" >25%</text>
<rect x="31.10" y="503.17" width="17.40" height="3.40" fill="#bebdc1" />
<rect x="49.26" y="503.17" width="17.40" height="3.40" fill="#3db54e" />
<rect x="67.42" y="503.17" width="17.40" height="3.40" fill="#bebdc1" />
<rect x="85.58" y="503.17" width="17.40" height="3.40" fill="#3db54e" />
<rect x="103.74" y="503.17" width="17.40" height="3.40" fill="#bebdc1" />
<rect x="121.90" y="503.17" width="17.40" height="3.40" fill="#bebdc1" />
<rect x="140.06" y="503.17" width="17.40" height="3.40" fill="#bebdc1" />
<rect x="158.22" y="503.17" width="17.40" height="3.40" fill="#bebdc1" />
<text x="29.20" y="506.27" font-size="4.0" text-anchor="end" fill="#222" stroke="#222" stroke-width="0.080" font-style="italic">UBE3A</text>
<text x="176.80" y="506.17" font-size="3.6" text-anchor="start" fill="#111" stroke="#111" stroke-width="0.100" >25%</text>
<rect x="31.10" y="507.06" width="17.40" height="3.40" fill="#bebdc1" />
<rect x="49.26" y="507.06" width="17.40" height="3.40" fill="#bebdc1" />
<rect x="67.42" y="507.06" width="17.40" height="3.40" fill="#bebdc1" />
<rect x="85.58" y="507.06" width="17.40" height="3.40" fill="#bebdc1" />
<rect x="103.74" y="507.06" width="17.40" height="3.40" fill="#bebdc1" />
<rect x="121.90" y="507.06" width="17.40" height="3.40" fill="#3db54e" />
<rect x="140.06" y="507.06" width="17.40" height="3.40" fill="#3db54e" />
<rect x="158.22" y="507.06" width="17.40" height="3.40" fill="#bebdc1" />
<text x="29.20" y="510.16" font-size="4.0" text-anchor="end" fill="#222" stroke="#222" stroke-width="0.080" font-style="italic">ZNF836</text>
<text x="176.80" y="510.06" font-size="3.6" text-anchor="start" fill="#111" stroke="#111" stroke-width="0.100" >25%</text>
<line x1="186.00" y1="334.00" x2="228.02" y2="334.00" stroke="#222" stroke-width="0.9" />
<line x1="186.40" y1="331.20" x2="186.40" y2="334.00" stroke="#222" stroke-width="0.9" />
<line x1="227.62" y1="331.20" x2="227.62" y2="334.00" stroke="#222" stroke-width="0.9" />
<text x="186.40" y="329.30" font-size="7.0" text-anchor="middle" fill="#111" stroke="#111" stroke-width="0.120" >0</text>
<text x="227.62" y="329.30" font-size="7.0" text-anchor="middle" fill="#111" stroke="#111" stroke-width="0.120" >6</text>
<rect x="186.40" y="335.90" width="13.74" height="3.40" fill="#3db54e" />
<rect x="200.14" y="335.90" width="6.87" height="3.40" fill="#8b7fc7" />
<rect x="207.01" y="335.90" width="20.61" height="3.40" fill="#0b6048" />
<rect x="186.40" y="339.79" width="34.35" height="3.40" fill="#3db54e" />
<rect x="186.40" y="343.68" width="6.87" height="3.40" fill="#3db54e" />
<rect x="193.27" y="343.68" width="6.87" height="3.40" fill="#c61230" />
<rect x="200.14" y="343.68" width="13.74" height="3.40" fill="#ff8c00" />
<rect x="213.88" y="343.68" width="6.87" height="3.40" fill="#105284" />
<rect x="186.40" y="347.57" width="20.61" height="3.40" fill="#3db54e" />
<rect x="207.01" y="347.57" width="6.87" height="3.40" fill="#c61230" />
<rect x="186.40" y="351.46" width="6.87" height="3.40" fill="#c61230" />
<rect x="193.27" y="351.46" width="13.74" height="3.40" fill="#29abe2" />
<rect x="186.40" y="355.35" width="20.61" height="3.40" fill="#3db54e" />
<rect x="186.40" y="359.24" width="20.61" height="3.40" fill="#3db54e" />
<rect x="186.40" y="363.13" width="20.61" height="3.40" fill="#3db54e" />
<rect x="186.40" y="367.02" width="20.61" height="3.40" fill="#3db54e" />
<rect x="186.40" y="370.91" width="20.61" height="3.40" fill="#3db54e" />
<rect x="186.40" y="374.80" width="13.74" height="3.40" fill="#3db54e" />
<rect x="186.40" y="378.69" width="13.74" height="3.40" fill="#3db54e" />
<rect x="186.40" y="382.58" width="6.87" height="3.40" fill="#3db54e" />
<rect x="193.27" y="382.58" width="6.87" height="3.40" fill="#29abe2" />
<rect x="186.40" y="386.47" width="6.87" height="3.40" fill="#3db54e" />
<rect x="193.27" y="386.47" width="6.87" height="3.40" fill="#29abe2" />
<rect x="186.40" y="390.36" width="13.74" height="3.40" fill="#3db54e" />
<rect x="186.40" y="394.25" width="13.74" height="3.40" fill="#3db54e" />
<rect x="186.40" y="398.14" width="13.74" height="3.40" fill="#3db54e" />
<rect x="186.40" y="402.03" width="13.74" height="3.40" fill="#c61230" />
<rect x="186.40" y="405.92" width="13.74" height="3.40" fill="#3db54e" />
<rect x="186.40" y="409.81" width="13.74" height="3.40" fill="#3db54e" />
<rect x="186.40" y="413.70" width="13.74" height="3.40" fill="#3db54e" />
<rect x="186.40" y="417.59" width="13.74" height="3.40" fill="#3db54e" />
<rect x="186.40" y="421.48" width="13.74" height="3.40" fill="#3db54e" />
<rect x="186.40" y="425.37" width="6.87" height="3.40" fill="#3db54e" />
<rect x="193.27" y="425.37" width="6.87" height="3.40" fill="#105284" />
<rect x="186.40" y="429.26" width="13.74" height="3.40" fill="#3db54e" />
<rect x="186.40" y="433.15" width="13.74" height="3.40" fill="#3db54e" />
<rect x="186.40" y="437.04" width="13.74" height="3.40" fill="#3db54e" />
<rect x="186.40" y="440.93" width="13.74" height="3.40" fill="#3db54e" />
<rect x="186.40" y="444.82" width="13.74" height="3.40" fill="#3db54e" />
<rect x="186.40" y="448.71" width="13.74" height="3.40" fill="#3db54e" />
<rect x="186.40" y="452.60" width="13.74" height="3.40" fill="#3db54e" />
<rect x="186.40" y="456.49" width="13.74" height="3.40" fill="#3db54e" />
<rect x="186.40" y="460.38" width="13.74" height="3.40" fill="#3db54e" />
<rect x="186.40" y="464.27" width="13.74" height="3.40" fill="#3db54e" />
<rect x="186.40" y="468.16" width="13.74" height="3.40" fill="#3db54e" />
<rect x="186.40" y="472.05" width="13.74" height="3.40" fill="#3db54e" />
<rect x="186.40" y="475.94" width="13.74" height="3.40" fill="#3db54e" />
<rect x="186.40" y="479.83" width="13.74" height="3.40" fill="#3db54e" />
<rect x="186.40" y="483.72" width="13.74" height="3.40" fill="#3db54e" />
<rect x="186.40" y="487.61" width="13.74" height="3.40" fill="#3db54e" />
<rect x="186.40" y="491.50" width="13.74" height="3.40" fill="#3db54e" />
<rect x="186.40" y="495.39" width="13.74" height="3.40" fill="#3db54e" />
<rect x="186.40" y="499.28" width="13.74" height="3.40" fill="#ff8c00" />
<rect x="186.40" y="503.17" width="13.74" height="3.40" fill="#3db54e" />
<rect x="186.40" y="507.06" width="13.74" height="3.40" fill="#3db54e" />
<rect x="230.00" y="428.80" width="4.80" height="4.80" fill="#3db54e" />
<text x="238.30" y="433.65" font-size="6.8" text-anchor="start" fill="#222" stroke="#222" stroke-width="0.120" >Missense_mutation</text>
<rect x="230.00" y="437.50" width="4.80" height="4.80" fill="#c61230" />
<text x="238.30" y="442.35" font-size="6.8" text-anchor="start" fill="#222" stroke="#222" stroke-width="0.120" >Nonsense_mutation</text>
<rect x="230.00" y="446.20" width="4.80" height="4.80" fill="#ff8c00" />
<text x="238.30" y="451.05" font-size="6.8" text-anchor="start" fill="#222" stroke="#222" stroke-width="0.120" >Splice_site</text>
<rect x="230.00" y="454.90" width="4.80" height="4.80" fill="#105284" />
<text x="238.30" y="459.75" font-size="6.8" text-anchor="start" fill="#222" stroke="#222" stroke-width="0.120" >Frame_shift_del</text>
<rect x="230.00" y="463.60" width="4.80" height="4.80" fill="#4b1a6b" />
<text x="238.30" y="468.45" font-size="6.8" text-anchor="start" fill="#222" stroke="#222" stroke-width="0.120" >Frame_shift_ins</text>
<rect x="230.00" y="472.30" width="4.80" height="4.80" fill="#8b7fc7" />
<text x="238.30" y="477.15" font-size="6.8" text-anchor="start" fill="#222" stroke="#222" stroke-width="0.120" >Amp</text>
<rect x="230.00" y="481.00" width="4.80" height="4.80" fill="#29abe2" />
<text x="238.30" y="485.85" font-size="6.8" text-anchor="start" fill="#222" stroke="#222" stroke-width="0.120" >Multi_hit</text>
<rect x="230.00" y="489.70" width="4.80" height="4.80" fill="#0b6048" />
<text x="238.30" y="494.55" font-size="6.8" text-anchor="start" fill="#222" stroke="#222" stroke-width="0.120" >Complex_event</text>
<text x="0" y="0" font-size="6.3" font-style="italic" text-anchor="end" fill="#222" transform="translate(40.65,516.3) rotate(-45)">COH-DHL1</text>
<text x="0" y="0" font-size="6.3" font-style="italic" text-anchor="end" fill="#222" transform="translate(58.81,516.3) rotate(-45)">COH-THL1</text>
<text x="0" y="0" font-size="6.3" font-style="italic" text-anchor="end" fill="#222" transform="translate(76.97,516.3) rotate(-45)">CS-THL1</text>
<text x="0" y="0" font-size="6.3" font-style="italic" text-anchor="end" fill="#222" transform="translate(95.13,516.3) rotate(-45)">DOGKIT</text>
<text x="0" y="0" font-size="6.3" font-style="italic" text-anchor="end" fill="#222" transform="translate(113.29,516.3) rotate(-45)">SU-DHL6</text>
<text x="0" y="0" font-size="6.3" font-style="italic" text-anchor="end" fill="#222" transform="translate(131.45,516.3) rotate(-45)">SU-DHL4</text>
<text x="0" y="0" font-size="6.3" font-style="italic" text-anchor="end" fill="#222" transform="translate(149.61,516.3) rotate(-45)">VAL</text>
<text x="0" y="0" font-size="6.3" font-style="italic" text-anchor="end" fill="#222" transform="translate(167.77,516.3) rotate(-45)">DOHH2</text>
<text x="309.90" y="271.40" font-size="10.9" text-anchor="start" fill="#000" stroke="#000" stroke-width="0.250" font-weight="bold">E</text>
<rect x="362.60" y="278.50" width="130.18" height="11.60" fill="#c61230" />
<rect x="362.60" y="278.50" width="7.99" height="11.60" fill="#105284" />
<line x1="359.90" y1="284.30" x2="363.10" y2="284.30" stroke="#000" stroke-width="0.9" />
<text x="357.40" y="287.20" font-size="8.1" text-anchor="end" fill="#111" stroke="#111" stroke-width="0.120" >DOHH2</text>
<text x="496.18" y="287.10" font-size="7.9" text-anchor="start" fill="#111" stroke="#111" stroke-width="0.000" >3357</text>
<rect x="362.60" y="296.26" width="37.93" height="11.60" fill="#c61230" />
<line x1="359.90" y1="302.06" x2="363.10" y2="302.06" stroke="#000" stroke-width="0.9" />
<text x="357.40" y="304.96" font-size="8.1" text-anchor="end" fill="#111" stroke="#111" stroke-width="0.120" >VAL</text>
<text x="403.93" y="304.86" font-size="7.9" text-anchor="start" fill="#111" stroke="#111" stroke-width="0.000" >978</text>
<rect x="362.60" y="314.02" width="70.93" height="11.60" fill="#c61230" />
<rect x="362.60" y="314.02" width="4.30" height="11.60" fill="#105284" />
<line x1="359.90" y1="319.82" x2="363.10" y2="319.82" stroke="#000" stroke-width="0.9" />
<text x="357.40" y="322.72" font-size="8.1" text-anchor="end" fill="#111" stroke="#111" stroke-width="0.120" >SU-DHL4</text>
<text x="436.93" y="322.62" font-size="7.9" text-anchor="start" fill="#111" stroke="#111" stroke-width="0.000" >1829</text>
<rect x="362.60" y="331.78" width="79.85" height="11.60" fill="#c61230" />
<rect x="362.60" y="331.78" width="23.27" height="11.60" fill="#105284" />
<line x1="359.90" y1="337.58" x2="363.10" y2="337.58" stroke="#000" stroke-width="0.9" />
<text x="357.40" y="340.48" font-size="8.1" text-anchor="end" fill="#111" stroke="#111" stroke-width="0.120" >SU-DHL6</text>
<text x="445.85" y="340.38" font-size="7.9" text-anchor="start" fill="#111" stroke="#111" stroke-width="0.000" >2059</text>
<rect x="362.60" y="349.54" width="44.33" height="11.60" fill="#c61230" />
<rect x="362.60" y="349.54" width="3.61" height="11.60" fill="#105284" />
<line x1="359.90" y1="355.34" x2="363.10" y2="355.34" stroke="#000" stroke-width="0.9" />
<text x="357.40" y="358.24" font-size="8.1" text-anchor="end" fill="#111" stroke="#111" stroke-width="0.120" >DOGKIT</text>
<text x="410.33" y="358.14" font-size="7.9" text-anchor="start" fill="#111" stroke="#111" stroke-width="0.000" >1143</text>
<rect x="362.60" y="367.30" width="32.89" height="11.60" fill="#c61230" />
<line x1="359.90" y1="373.10" x2="363.10" y2="373.10" stroke="#000" stroke-width="0.9" />
<text x="357.40" y="376.00" font-size="8.1" text-anchor="end" fill="#111" stroke="#111" stroke-width="0.120" >CS-THL1</text>
<text x="398.89" y="375.90" font-size="7.9" text-anchor="start" fill="#111" stroke="#111" stroke-width="0.000" >848</text>
<rect x="362.60" y="385.06" width="42.85" height="11.60" fill="#c61230" />
<rect x="362.60" y="385.06" width="2.40" height="11.60" fill="#105284" />
<line x1="359.90" y1="390.86" x2="363.10" y2="390.86" stroke="#000" stroke-width="0.9" />
<text x="357.40" y="393.76" font-size="8.1" text-anchor="end" fill="#111" stroke="#111" stroke-width="0.120" >COH-THL1</text>
<text x="408.85" y="393.66" font-size="7.9" text-anchor="start" fill="#111" stroke="#111" stroke-width="0.000" >1105</text>
<rect x="362.60" y="402.82" width="41.61" height="11.60" fill="#c61230" />
<line x1="359.90" y1="408.62" x2="363.10" y2="408.62" stroke="#000" stroke-width="0.9" />
<text x="357.40" y="411.52" font-size="8.1" text-anchor="end" fill="#111" stroke="#111" stroke-width="0.120" >COH-DHL1</text>
<text x="407.61" y="411.42" font-size="7.9" text-anchor="start" fill="#111" stroke="#111" stroke-width="0.000" >1073</text>
<line x1="363.10" y1="273.00" x2="363.10" y2="419.40" stroke="#000" stroke-width="1.1" />
<line x1="362.60" y1="418.90" x2="493.00" y2="418.90" stroke="#000" stroke-width="1.1" />
<line x1="363.10" y1="418.90" x2="363.10" y2="421.90" stroke="#000" stroke-width="0.9" />
<text x="363.10" y="430.20" font-size="7.3" text-anchor="middle" fill="#111" stroke="#111" stroke-width="0.120" >0</text>
<line x1="401.88" y1="418.90" x2="401.88" y2="421.90" stroke="#000" stroke-width="0.9" />
<text x="401.88" y="430.20" font-size="7.3" text-anchor="middle" fill="#111" stroke="#111" stroke-width="0.120" >1000</text>
<line x1="440.66" y1="418.90" x2="440.66" y2="421.90" stroke="#000" stroke-width="0.9" />
<text x="440.66" y="430.20" font-size="7.3" text-anchor="middle" fill="#111" stroke="#111" stroke-width="0.120" >2000</text>
<line x1="479.44" y1="418.90" x2="479.44" y2="421.90" stroke="#000" stroke-width="0.9" />
<text x="479.44" y="430.20" font-size="7.3" text-anchor="middle" fill="#111" stroke="#111" stroke-width="0.120" >3000</text>
<text x="0" y="0" font-size="9.6" text-anchor="middle" fill="#111" stroke="#111" stroke-width="0.3" transform="translate(427.5,442.4) scale(0.64,1)">Gene number</text>
<text x="464.60" y="391.50" font-size="6.75" text-anchor="start" fill="#222" stroke="#222" stroke-width="0.120" >Segment_mean</text>
<rect x="464.60" y="397.40" width="4.90" height="5.20" fill="#c61230" />
<rect x="464.60" y="406.20" width="4.90" height="5.20" fill="#105284" />
<text x="472.80" y="402.40" font-size="6.75" text-anchor="start" fill="#222" stroke="#222" stroke-width="0.120" >Gain</text>
<text x="472.80" y="411.60" font-size="6.75" text-anchor="start" fill="#222" stroke="#222" stroke-width="0.120" >Loss</text>
<text x="344.70" y="460.20" font-size="10.9" text-anchor="start" fill="#000" stroke="#000" stroke-width="0.250" font-weight="bold">F</text>
<rect x="385.60" y="460.10" width="112.80" height="175.00" fill="#d6d6d8" />
<rect x="385.90" y="460.40" width="13.50" height="6.40" fill="#bebdc1" />
<rect x="400.00" y="460.40" width="13.50" height="6.40" fill="#c61230" />
<rect x="414.10" y="460.40" width="13.50" height="6.40" fill="#c61230" />
<rect x="428.20" y="460.40" width="13.50" height="6.40" fill="#c61230" />
<rect x="442.30" y="460.40" width="13.50" height="6.40" fill="#c61230" />
<rect x="456.40" y="460.40" width="13.50" height="6.40" fill="#c61230" />
<rect x="470.50" y="460.40" width="13.50" height="6.40" fill="#c61230" />
<rect x="484.60" y="460.40" width="13.50" height="6.40" fill="#c61230" />
<text x="383.60" y="465.45" font-size="5.7" text-anchor="end" fill="#333" stroke="#333" stroke-width="0.000" >14q13.2</text>
<text x="500.60" y="465.45" font-size="5.7" text-anchor="start" fill="#333" stroke="#333" stroke-width="0.000" >88%</text>
<rect x="385.90" y="467.40" width="13.50" height="6.40" fill="#bebdc1" />
<rect x="400.00" y="467.40" width="13.50" height="6.40" fill="#bebdc1" />
<rect x="414.10" y="467.40" width="13.50" height="6.40" fill="#c61230" />
<rect x="428.20" y="467.40" width="13.50" height="6.40" fill="#c61230" />
<rect x="442.30" y="467.40" width="13.50" height="6.40" fill="#c61230" />
<rect x="456.40" y="467.40" width="13.50" height="6.40" fill="#c61230" />
<rect x="470.50" y="467.40" width="13.50" height="6.40" fill="#c61230" />
<rect x="484.60" y="467.40" width="13.50" height="6.40" fill="#c61230" />
<text x="383.60" y="472.45" font-size="5.7" text-anchor="end" fill="#333" stroke="#333" stroke-width="0.000" >7q11.21</text>
<text x="500.60" y="472.45" font-size="5.7" text-anchor="start" fill="#333" stroke="#333" stroke-width="0.000" >75%</text>
<rect x="385.90" y="474.40" width="13.50" height="6.40" fill="#bebdc1" />
<rect x="400.00" y="474.40" width="13.50" height="6.40" fill="#bebdc1" />
<rect x="414.10" y="474.40" width="13.50" height="6.40" fill="#c61230" />
<rect x="428.20" y="474.40" width="13.50" height="6.40" fill="#c61230" />
<rect x="442.30" y="474.40" width="13.50" height="6.40" fill="#c61230" />
<rect x="456.40" y="474.40" width="13.50" height="6.40" fill="#c61230" />
<rect x="470.50" y="474.40" width="13.50" height="6.40" fill="#c61230" />
<rect x="484.60" y="474.40" width="13.50" height="6.40" fill="#c61230" />
<text x="383.60" y="479.45" font-size="5.7" text-anchor="end" fill="#333" stroke="#333" stroke-width="0.000" >14q12</text>
<text x="500.60" y="479.45" font-size="5.7" text-anchor="start" fill="#333" stroke="#333" stroke-width="0.000" >75%</text>
<rect x="385.90" y="481.40" width="13.50" height="6.40" fill="#c61230" />
<rect x="400.00" y="481.40" width="13.50" height="6.40" fill="#bebdc1" />
<rect x="414.10" y="481.40" width="13.50" height="6.40" fill="#bebdc1" />
<rect x="428.20" y="481.40" width="13.50" height="6.40" fill="#c61230" />
<rect x="442.30" y="481.40" width="13.50" height="6.40" fill="#c61230" />
<rect x="456.40" y="481.40" width="13.50" height="6.40" fill="#c61230" />
<rect x="470.50" y="481.40" width="13.50" height="6.40" fill="#c61230" />
<rect x="484.60" y="481.40" width="13.50" height="6.40" fill="#c61230" />
<text x="383.60" y="486.45" font-size="5.7" text-anchor="end" fill="#333" stroke="#333" stroke-width="0.000" >18p11.31</text>
<text x="500.60" y="486.45" font-size="5.7" text-anchor="start" fill="#333" stroke="#333" stroke-width="0.000" >75%</text>
<rect x="385.90" y="488.40" width="13.50" height="6.40" fill="#bebdc1" />
<rect x="400.00" y="488.40" width="13.50" height="6.40" fill="#c61230" />
<rect x="414.10" y="488.40" width="13.50" height="6.40" fill="#c61230" />
<rect x="428.20" y="488.40" width="13.50" height="6.40" fill="#c61230" />
<rect x="442.30" y="488.40" width="13.50" height="6.40" fill="#c61230" />
<rect x="456.40" y="488.40" width="13.50" height="6.40" fill="#c61230" />
<rect x="470.50" y="488.40" width="13.50" height="6.40" fill="#bebdc1" />
<rect x="484.60" y="488.40" width="13.50" height="6.40" fill="#c61230" />
<text x="383.60" y="493.45" font-size="5.7" text-anchor="end" fill="#333" stroke="#333" stroke-width="0.000" >5p13.2</text>
<text x="500.60" y="493.45" font-size="5.7" text-anchor="start" fill="#333" stroke="#333" stroke-width="0.000" >75%</text>
<rect x="385.90" y="495.40" width="13.50" height="6.40" fill="#bebdc1" />
<rect x="400.00" y="495.40" width="13.50" height="6.40" fill="#bebdc1" />
<rect x="414.10" y="495.40" width="13.50" height="6.40" fill="#c61230" />
<rect x="428.20" y="495.40" width="13.50" height="6.40" fill="#bebdc1" />
<rect x="442.30" y="495.40" width="13.50" height="6.40" fill="#c61230" />
<rect x="456.40" y="495.40" width="13.50" height="6.40" fill="#c61230" />
<rect x="470.50" y="495.40" width="13.50" height="6.40" fill="#c61230" />
<rect x="484.60" y="495.40" width="13.50" height="6.40" fill="#c61230" />
<text x="383.60" y="500.45" font-size="5.7" text-anchor="end" fill="#333" stroke="#333" stroke-width="0.000" >7q22.1</text>
<text x="500.60" y="500.45" font-size="5.7" text-anchor="start" fill="#333" stroke="#333" stroke-width="0.000" >62%</text>
<rect x="385.90" y="502.40" width="13.50" height="6.40" fill="#bebdc1" />
<rect x="400.00" y="502.40" width="13.50" height="6.40" fill="#bebdc1" />
<rect x="414.10" y="502.40" width="13.50" height="6.40" fill="#c61230" />
<rect x="428.20" y="502.40" width="13.50" height="6.40" fill="#bebdc1" />
<rect x="442.30" y="502.40" width="13.50" height="6.40" fill="#c61230" />
<rect x="456.40" y="502.40" width="13.50" height="6.40" fill="#c61230" />
<rect x="470.50" y="502.40" width="13.50" height="6.40" fill="#c61230" />
<rect x="484.60" y="502.40" width="13.50" height="6.40" fill="#c61230" />
<text x="383.60" y="507.45" font-size="5.7" text-anchor="end" fill="#333" stroke="#333" stroke-width="0.000" >8q13.1</text>
<text x="500.60" y="507.45" font-size="5.7" text-anchor="start" fill="#333" stroke="#333" stroke-width="0.000" >62%</text>
<rect x="385.90" y="509.40" width="13.50" height="6.40" fill="#bebdc1" />
<rect x="400.00" y="509.40" width="13.50" height="6.40" fill="#bebdc1" />
<rect x="414.10" y="509.40" width="13.50" height="6.40" fill="#c61230" />
<rect x="428.20" y="509.40" width="13.50" height="6.40" fill="#bebdc1" />
<rect x="442.30" y="509.40" width="13.50" height="6.40" fill="#c61230" />
<rect x="456.40" y="509.40" width="13.50" height="6.40" fill="#c61230" />
<rect x="470.50" y="509.40" width="13.50" height="6.40" fill="#c61230" />
<rect x="484.60" y="509.40" width="13.50" height="6.40" fill="#c61230" />
<text x="383.60" y="514.45" font-size="5.7" text-anchor="end" fill="#333" stroke="#333" stroke-width="0.000" >10q21.3</text>
<text x="500.60" y="514.45" font-size="5.7" text-anchor="start" fill="#333" stroke="#333" stroke-width="0.000" >62%</text>
<rect x="385.90" y="516.40" width="13.50" height="6.40" fill="#bebdc1" />
<rect x="400.00" y="516.40" width="13.50" height="6.40" fill="#bebdc1" />
<rect x="414.10" y="516.40" width="13.50" height="6.40" fill="#c61230" />
<rect x="428.20" y="516.40" width="13.50" height="6.40" fill="#bebdc1" />
<rect x="442.30" y="516.40" width="13.50" height="6.40" fill="#c61230" />
<rect x="456.40" y="516.40" width="13.50" height="6.40" fill="#c61230" />
<rect x="470.50" y="516.40" width="13.50" height="6.40" fill="#c61230" />
<rect x="484.60" y="516.40" width="13.50" height="6.40" fill="#c61230" />
<text x="383.60" y="521.45" font-size="5.7" text-anchor="end" fill="#333" stroke="#333" stroke-width="0.000" >10q22.2</text>
<text x="500.60" y="521.45" font-size="5.7" text-anchor="start" fill="#333" stroke="#333" stroke-width="0.000" >62%</text>
<rect x="385.90" y="523.40" width="13.50" height="6.40" fill="#bebdc1" />
<rect x="400.00" y="523.40" width="13.50" height="6.40" fill="#bebdc1" />
<rect x="414.10" y="523.40" width="13.50" height="6.40" fill="#c61230" />
<rect x="428.20" y="523.40" width="13.50" height="6.40" fill="#c61230" />
<rect x="442.30" y="523.40" width="13.50" height="6.40" fill="#c61230" />
<rect x="456.40" y="523.40" width="13.50" height="6.40" fill="#c61230" />
<rect x="470.50" y="523.40" width="13.50" height="6.40" fill="#bebdc1" />
<rect x="484.60" y="523.40" width="13.50" height="6.40" fill="#c61230" />
<text x="383.60" y="528.45" font-size="5.7" text-anchor="end" fill="#333" stroke="#333" stroke-width="0.000" >11p15.4</text>
<text x="500.60" y="528.45" font-size="5.7" text-anchor="start" fill="#333" stroke="#333" stroke-width="0.000" >62%</text>
<rect x="385.90" y="530.40" width="13.50" height="6.40" fill="#bebdc1" />
<rect x="400.00" y="530.40" width="13.50" height="6.40" fill="#bebdc1" />
<rect x="414.10" y="530.40" width="13.50" height="6.40" fill="#c61230" />
<rect x="428.20" y="530.40" width="13.50" height="6.40" fill="#bebdc1" />
<rect x="442.30" y="530.40" width="13.50" height="6.40" fill="#c61230" />
<rect x="456.40" y="530.40" width="13.50" height="6.40" fill="#c61230" />
<rect x="470.50" y="530.40" width="13.50" height="6.40" fill="#c61230" />
<rect x="484.60" y="530.40" width="13.50" height="6.40" fill="#c61230" />
<text x="383.60" y="535.45" font-size="5.7" text-anchor="end" fill="#333" stroke="#333" stroke-width="0.000" >14q21.3</text>
<text x="500.60" y="535.45" font-size="5.7" text-anchor="start" fill="#333" stroke="#333" stroke-width="0.000" >62%</text>
<rect x="385.90" y="537.40" width="13.50" height="6.40" fill="#bebdc1" />
<rect x="400.00" y="537.40" width="13.50" height="6.40" fill="#bebdc1" />
<rect x="414.10" y="537.40" width="13.50" height="6.40" fill="#bebdc1" />
<rect x="428.20" y="537.40" width="13.50" height="6.40" fill="#c61230" />
<rect x="442.30" y="537.40" width="13.50" height="6.40" fill="#c61230" />
<rect x="456.40" y="537.40" width="13.50" height="6.40" fill="#c61230" />
<rect x="470.50" y="537.40" width="13.50" height="6.40" fill="#c61230" />
<rect x="484.60" y="537.40" width="13.50" height="6.40" fill="#c61230" />
<text x="383.60" y="542.45" font-size="5.7" text-anchor="end" fill="#333" stroke="#333" stroke-width="0.000" >2p16.1</text>
<text x="500.60" y="542.45" font-size="5.7" text-anchor="start" fill="#333" stroke="#333" stroke-width="0.000" >62%</text>
<rect x="385.90" y="544.40" width="13.50" height="6.40" fill="#bebdc1" />
<rect x="400.00" y="544.40" width="13.50" height="6.40" fill="#bebdc1" />
<rect x="414.10" y="544.40" width="13.50" height="6.40" fill="#c61230" />
<rect x="428.20" y="544.40" width="13.50" height="6.40" fill="#bebdc1" />
<rect x="442.30" y="544.40" width="13.50" height="6.40" fill="#c61230" />
<rect x="456.40" y="544.40" width="13.50" height="6.40" fill="#c61230" />
<rect x="470.50" y="544.40" width="13.50" height="6.40" fill="#c61230" />
<rect x="484.60" y="544.40" width="13.50" height="6.40" fill="#c61230" />
<text x="383.60" y="549.45" font-size="5.7" text-anchor="end" fill="#333" stroke="#333" stroke-width="0.000" >2p15</text>
<text x="500.60" y="549.45" font-size="5.7" text-anchor="start" fill="#333" stroke="#333" stroke-width="0.000" >62%</text>
<rect x="385.90" y="551.40" width="13.50" height="6.40" fill="#c61230" />
<rect x="400.00" y="551.40" width="13.50" height="6.40" fill="#c61230" />
<rect x="414.10" y="551.40" width="13.50" height="6.40" fill="#bebdc1" />
<rect x="428.20" y="551.40" width="13.50" height="6.40" fill="#bebdc1" />
<rect x="442.30" y="551.40" width="13.50" height="6.40" fill="#c61230" />
<rect x="456.40" y="551.40" width="13.50" height="6.40" fill="#c61230" />
<rect x="470.50" y="551.40" width="13.50" height="6.40" fill="#bebdc1" />
<rect x="484.60" y="551.40" width="13.50" height="6.40" fill="#c61230" />
<text x="383.60" y="556.45" font-size="5.7" text-anchor="end" fill="#333" stroke="#333" stroke-width="0.000" >2q31.2</text>
<text x="500.60" y="556.45" font-size="5.7" text-anchor="start" fill="#333" stroke="#333" stroke-width="0.000" >62%</text>
<rect x="385.90" y="558.40" width="13.50" height="6.40" fill="#bebdc1" />
<rect x="400.00" y="558.40" width="13.50" height="6.40" fill="#bebdc1" />
<rect x="414.10" y="558.40" width="13.50" height="6.40" fill="#c61230" />
<rect x="428.20" y="558.40" width="13.50" height="6.40" fill="#bebdc1" />
<rect x="442.30" y="558.40" width="13.50" height="6.40" fill="#c61230" />
<rect x="456.40" y="558.40" width="13.50" height="6.40" fill="#c61230" />
<rect x="470.50" y="558.40" width="13.50" height="6.40" fill="#c61230" />
<rect x="484.60" y="558.40" width="13.50" height="6.40" fill="#c61230" />
<text x="383.60" y="563.45" font-size="5.7" text-anchor="end" fill="#333" stroke="#333" stroke-width="0.000" >2q33.1</text>
<text x="500.60" y="563.45" font-size="5.7" text-anchor="start" fill="#333" stroke="#333" stroke-width="0.000" >62%</text>
<rect x="385.90" y="565.40" width="13.50" height="6.40" fill="#bebdc1" />
<rect x="400.00" y="565.40" width="13.50" height="6.40" fill="#bebdc1" />
<rect x="414.10" y="565.40" width="13.50" height="6.40" fill="#c61230" />
<rect x="428.20" y="565.40" width="13.50" height="6.40" fill="#c61230" />
<rect x="442.30" y="565.40" width="13.50" height="6.40" fill="#c61230" />
<rect x="456.40" y="565.40" width="13.50" height="6.40" fill="#c61230" />
<rect x="470.50" y="565.40" width="13.50" height="6.40" fill="#bebdc1" />
<rect x="484.60" y="565.40" width="13.50" height="6.40" fill="#c61230" />
<text x="383.60" y="570.45" font-size="5.7" text-anchor="end" fill="#333" stroke="#333" stroke-width="0.000" >3q23</text>
<text x="500.60" y="570.45" font-size="5.7" text-anchor="start" fill="#333" stroke="#333" stroke-width="0.000" >62%</text>
<rect x="385.90" y="572.40" width="13.50" height="6.40" fill="#bebdc1" />
<rect x="400.00" y="572.40" width="13.50" height="6.40" fill="#bebdc1" />
<rect x="414.10" y="572.40" width="13.50" height="6.40" fill="#c61230" />
<rect x="428.20" y="572.40" width="13.50" height="6.40" fill="#c61230" />
<rect x="442.30" y="572.40" width="13.50" height="6.40" fill="#c61230" />
<rect x="456.40" y="572.40" width="13.50" height="6.40" fill="#c61230" />
<rect x="470.50" y="572.40" width="13.50" height="6.40" fill="#bebdc1" />
<rect x="484.60" y="572.40" width="13.50" height="6.40" fill="#c61230" />
<text x="383.60" y="577.45" font-size="5.7" text-anchor="end" fill="#333" stroke="#333" stroke-width="0.000" >4p14</text>
<text x="500.60" y="577.45" font-size="5.7" text-anchor="start" fill="#333" stroke="#333" stroke-width="0.000" >62%</text>
<rect x="385.90" y="579.40" width="13.50" height="6.40" fill="#bebdc1" />
<rect x="400.00" y="579.40" width="13.50" height="6.40" fill="#105284" />
<rect x="414.10" y="579.40" width="13.50" height="6.40" fill="#105284" />
<rect x="428.20" y="579.40" width="13.50" height="6.40" fill="#bebdc1" />
<rect x="442.30" y="579.40" width="13.50" height="6.40" fill="#105284" />
<rect x="456.40" y="579.40" width="13.50" height="6.40" fill="#105284" />
<rect x="470.50" y="579.40" width="13.50" height="6.40" fill="#bebdc1" />
<rect x="484.60" y="579.40" width="13.50" height="6.40" fill="#105284" />
<text x="383.60" y="584.45" font-size="5.7" text-anchor="end" fill="#333" stroke="#333" stroke-width="0.000" >1p36.32</text>
<text x="500.60" y="584.45" font-size="5.7" text-anchor="start" fill="#333" stroke="#333" stroke-width="0.000" >62%</text>
<rect x="385.90" y="586.40" width="13.50" height="6.40" fill="#bebdc1" />
<rect x="400.00" y="586.40" width="13.50" height="6.40" fill="#bebdc1" />
<rect x="414.10" y="586.40" width="13.50" height="6.40" fill="#105284" />
<rect x="428.20" y="586.40" width="13.50" height="6.40" fill="#bebdc1" />
<rect x="442.30" y="586.40" width="13.50" height="6.40" fill="#105284" />
<rect x="456.40" y="586.40" width="13.50" height="6.40" fill="#105284" />
<rect x="470.50" y="586.40" width="13.50" height="6.40" fill="#105284" />
<rect x="484.60" y="586.40" width="13.50" height="6.40" fill="#105284" />
<text x="383.60" y="591.45" font-size="5.7" text-anchor="end" fill="#333" stroke="#333" stroke-width="0.000" >10p11.1</text>
<text x="500.60" y="591.45" font-size="5.7" text-anchor="start" fill="#333" stroke="#333" stroke-width="0.000" >62%</text>
<rect x="385.90" y="593.40" width="13.50" height="6.40" fill="#bebdc1" />
<rect x="400.00" y="593.40" width="13.50" height="6.40" fill="#bebdc1" />
<rect x="414.10" y="593.40" width="13.50" height="6.40" fill="#bebdc1" />
<rect x="428.20" y="593.40" width="13.50" height="6.40" fill="#c61230" />
<rect x="442.30" y="593.40" width="13.50" height="6.40" fill="#c61230" />
<rect x="456.40" y="593.40" width="13.50" height="6.40" fill="#c61230" />
<rect x="470.50" y="593.40" width="13.50" height="6.40" fill="#bebdc1" />
<rect x="484.60" y="593.40" width="13.50" height="6.40" fill="#c61230" />
<text x="383.60" y="598.45" font-size="5.7" text-anchor="end" fill="#333" stroke="#333" stroke-width="0.000" >5q12.3</text>
<text x="500.60" y="598.45" font-size="5.7" text-anchor="start" fill="#333" stroke="#333" stroke-width="0.000" >50%</text>
<rect x="385.90" y="600.40" width="13.50" height="6.40" fill="#bebdc1" />
<rect x="400.00" y="600.40" width="13.50" height="6.40" fill="#bebdc1" />
<rect x="414.10" y="600.40" width="13.50" height="6.40" fill="#c61230" />
<rect x="428.20" y="600.40" width="13.50" height="6.40" fill="#bebdc1" />
<rect x="442.30" y="600.40" width="13.50" height="6.40" fill="#c61230" />
<rect x="456.40" y="600.40" width="13.50" height="6.40" fill="#bebdc1" />
<rect x="470.50" y="600.40" width="13.50" height="6.40" fill="#c61230" />
<rect x="484.60" y="600.40" width="13.50" height="6.40" fill="#c61230" />
<text x="383.60" y="605.45" font-size="5.7" text-anchor="end" fill="#333" stroke="#333" stroke-width="0.000" >8q22.1</text>
<text x="500.60" y="605.45" font-size="5.7" text-anchor="start" fill="#333" stroke="#333" stroke-width="0.000" >50%</text>
<rect x="385.90" y="607.40" width="13.50" height="6.40" fill="#bebdc1" />
<rect x="400.00" y="607.40" width="13.50" height="6.40" fill="#bebdc1" />
<rect x="414.10" y="607.40" width="13.50" height="6.40" fill="#bebdc1" />
<rect x="428.20" y="607.40" width="13.50" height="6.40" fill="#c61230" />
<rect x="442.30" y="607.40" width="13.50" height="6.40" fill="#bebdc1" />
<rect x="456.40" y="607.40" width="13.50" height="6.40" fill="#c61230" />
<rect x="470.50" y="607.40" width="13.50" height="6.40" fill="#c61230" />
<rect x="484.60" y="607.40" width="13.50" height="6.40" fill="#c61230" />
<text x="383.60" y="612.45" font-size="5.7" text-anchor="end" fill="#333" stroke="#333" stroke-width="0.000" >1p22.1</text>
<text x="500.60" y="612.45" font-size="5.7" text-anchor="start" fill="#333" stroke="#333" stroke-width="0.000" >50%</text>
<rect x="385.90" y="614.40" width="13.50" height="6.40" fill="#c61230" />
<rect x="400.00" y="614.40" width="13.50" height="6.40" fill="#bebdc1" />
<rect x="414.10" y="614.40" width="13.50" height="6.40" fill="#c61230" />
<rect x="428.20" y="614.40" width="13.50" height="6.40" fill="#c61230" />
<rect x="442.30" y="614.40" width="13.50" height="6.40" fill="#bebdc1" />
<rect x="456.40" y="614.40" width="13.50" height="6.40" fill="#bebdc1" />
<rect x="470.50" y="614.40" width="13.50" height="6.40" fill="#c61230" />
<rect x="484.60" y="614.40" width="13.50" height="6.40" fill="#bebdc1" />
<text x="383.60" y="619.45" font-size="5.7" text-anchor="end" fill="#333" stroke="#333" stroke-width="0.000" >18q22.1</text>
<text x="500.60" y="619.45" font-size="5.7" text-anchor="start" fill="#333" stroke="#333" stroke-width="0.000" >50%</text>
<rect x="385.90" y="621.40" width="13.50" height="6.40" fill="#105284" />
<rect x="400.00" y="621.40" width="13.50" height="6.40" fill="#105284" />
<rect x="414.10" y="621.40" width="13.50" height="6.40" fill="#105284" />
<rect x="428.20" y="621.40" width="13.50" height="6.40" fill="#bebdc1" />
<rect x="442.30" y="621.40" width="13.50" height="6.40" fill="#bebdc1" />
<rect x="456.40" y="621.40" width="13.50" height="6.40" fill="#bebdc1" />
<rect x="470.50" y="621.40" width="13.50" height="6.40" fill="#bebdc1" />
<rect x="484.60" y="621.40" width="13.50" height="6.40" fill="#105284" />
<text x="383.60" y="626.45" font-size="5.7" text-anchor="end" fill="#333" stroke="#333" stroke-width="0.000" >9p21.3</text>
<text x="500.60" y="626.45" font-size="5.7" text-anchor="start" fill="#333" stroke="#333" stroke-width="0.000" >50%</text>
<rect x="385.90" y="628.40" width="13.50" height="6.40" fill="#bebdc1" />
<rect x="400.00" y="628.40" width="13.50" height="6.40" fill="#bebdc1" />
<rect x="414.10" y="628.40" width="13.50" height="6.40" fill="#105284" />
<rect x="428.20" y="628.40" width="13.50" height="6.40" fill="#105284" />
<rect x="442.30" y="628.40" width="13.50" height="6.40" fill="#105284" />
<rect x="456.40" y="628.40" width="13.50" height="6.40" fill="#bebdc1" />
<rect x="470.50" y="628.40" width="13.50" height="6.40" fill="#bebdc1" />
<rect x="484.60" y="628.40" width="13.50" height="6.40" fill="#105284" />
<text x="383.60" y="633.45" font-size="5.7" text-anchor="end" fill="#333" stroke="#333" stroke-width="0.000" >12q11</text>
<text x="500.60" y="633.45" font-size="5.7" text-anchor="start" fill="#333" stroke="#333" stroke-width="0.000" >50%</text>
<text x="0" y="0" font-size="5.6" text-anchor="end" fill="#222" transform="translate(394.50,638.8) rotate(-90)">COH-DHL1</text>
<text x="0" y="0" font-size="5.6" text-anchor="end" fill="#222" transform="translate(408.60,638.8) rotate(-90)">COH-THL1</text>
<text x="0" y="0" font-size="5.6" text-anchor="end" fill="#222" transform="translate(422.70,638.8) rotate(-90)">CS-THL1</text>
<text x="0" y="0" font-size="5.6" text-anchor="end" fill="#222" transform="translate(436.80,638.8) rotate(-90)">DOGKIT</text>
<text x="0" y="0" font-size="5.6" text-anchor="end" fill="#222" transform="translate(450.90,638.8) rotate(-90)">SU-DHL6</text>
<text x="0" y="0" font-size="5.6" text-anchor="end" fill="#222" transform="translate(465.00,638.8) rotate(-90)">SU-DHL4</text>
<text x="0" y="0" font-size="5.6" text-anchor="end" fill="#222" transform="translate(479.10,638.8) rotate(-90)">VAL</text>
<text x="0" y="0" font-size="5.6" text-anchor="end" fill="#222" transform="translate(493.20,638.8) rotate(-90)">DOHH2</text>
<rect x="345.00" y="642.70" width="5.20" height="4.80" fill="#c61230" />
<rect x="345.00" y="652.00" width="5.20" height="4.80" fill="#105284" />
<text x="353.30" y="647.30" font-size="6.9" text-anchor="start" fill="#222" stroke="#222" stroke-width="0.120" >Amp/Gain</text>
<text x="353.30" y="656.80" font-size="6.9" text-anchor="start" fill="#222" stroke="#222" stroke-width="0.120" >Del/Loss</text>
<text x="6.50" y="554.70" font-size="10.9" text-anchor="start" fill="#000" stroke="#000" stroke-width="0.250" font-weight="bold">G</text>
<line x1="259.20" y1="549.70" x2="259.20" y2="649.00" stroke="#000" stroke-width="1.1" />
<line x1="258.70" y1="648.70" x2="300.00" y2="648.70" stroke="#000" stroke-width="1.1" />
<line x1="256.20" y1="555.60" x2="259.20" y2="555.60" stroke="#000" stroke-width="0.9" />
<text x="252.90" y="558.00" font-size="6.75" text-anchor="end" fill="#111" stroke="#111" stroke-width="0.120" >Regulation of programmed cell death</text>
<circle cx="297.90" cy="555.60" r="0.60" fill="#3a3aff"/>
<line x1="256.20" y1="566.49" x2="259.20" y2="566.49" stroke="#000" stroke-width="0.9" />
<text x="252.90" y="568.89" font-size="6.75" text-anchor="end" fill="#111" stroke="#111" stroke-width="0.120" >Negative regulation of transforming growth factor beta receptor signaling pathway</text>
<circle cx="292.00" cy="566.49" r="1.35" fill="#b020e0"/>
<line x1="256.20" y1="577.38" x2="259.20" y2="577.38" stroke="#000" stroke-width="0.9" />
<text x="252.90" y="579.78" font-size="6.75" text-anchor="end" fill="#111" stroke="#111" stroke-width="0.120" >Regulation of signal transduction by p53 class mediator</text>
<circle cx="291.60" cy="577.38" r="1.05" fill="#3040ff"/>
<line x1="256.20" y1="588.27" x2="259.20" y2="588.27" stroke="#000" stroke-width="0.9" />
<text x="252.90" y="590.67" font-size="6.75" text-anchor="end" fill="#111" stroke="#111" stroke-width="0.120" >Negative regulation of I-kappaB kinase/NF-kappaB signaling</text>
<circle cx="285.30" cy="588.27" r="1.45" fill="#5522ee"/>
<line x1="256.20" y1="599.16" x2="259.20" y2="599.16" stroke="#000" stroke-width="0.9" />
<text x="252.90" y="601.56" font-size="6.75" text-anchor="end" fill="#111" stroke="#111" stroke-width="0.120" >Protein kinase signaling</text>
<circle cx="283.60" cy="599.16" r="2.15" fill="#ff1010"/>
<line x1="256.20" y1="610.05" x2="259.20" y2="610.05" stroke="#000" stroke-width="0.9" />
<text x="252.90" y="612.45" font-size="6.75" text-anchor="end" fill="#111" stroke="#111" stroke-width="0.120" >Cellular response to interferon-beta</text>
<circle cx="282.50" cy="610.05" r="1.95" fill="#f0104a"/>
<line x1="256.20" y1="620.94" x2="259.20" y2="620.94" stroke="#000" stroke-width="0.9" />
<text x="252.90" y="623.34" font-size="6.75" text-anchor="end" fill="#111" stroke="#111" stroke-width="0.120" >Calcineurin-NFAT signaling cascade</text>
<circle cx="282.50" cy="620.94" r="2.10" fill="#ff1030"/>
<line x1="256.20" y1="631.83" x2="259.20" y2="631.83" stroke="#000" stroke-width="0.9" />
<text x="252.90" y="634.23" font-size="6.75" text-anchor="end" fill="#111" stroke="#111" stroke-width="0.120" >Positive regulation of G2/M transition of mitotic cell cycle</text>
<circle cx="278.90" cy="631.83" r="1.80" fill="#a020f0"/>
<line x1="256.20" y1="642.72" x2="259.20" y2="642.72" stroke="#000" stroke-width="0.9" />
<text x="252.90" y="645.12" font-size="6.75" text-anchor="end" fill="#111" stroke="#111" stroke-width="0.120" >Negative regulation of DNA replication</text>
<circle cx="278.90" cy="642.72" r="1.90" fill="#a020f0"/>
<line x1="260.70" y1="648.70" x2="260.70" y2="651.60" stroke="#000" stroke-width="0.9" />
<text x="260.70" y="660.40" font-size="7.3" text-anchor="middle" fill="#111" stroke="#111" stroke-width="0.120" >0</text>
<line x1="272.70" y1="648.70" x2="272.70" y2="651.60" stroke="#000" stroke-width="0.9" />
<text x="272.70" y="660.40" font-size="7.3" text-anchor="middle" fill="#111" stroke="#111" stroke-width="0.120" >1</text>
<line x1="284.70" y1="648.70" x2="284.70" y2="651.60" stroke="#000" stroke-width="0.9" />
<text x="284.70" y="660.40" font-size="7.3" text-anchor="middle" fill="#111" stroke="#111" stroke-width="0.120" >2</text>
<line x1="296.70" y1="648.70" x2="296.70" y2="651.60" stroke="#000" stroke-width="0.9" />
<text x="296.70" y="660.40" font-size="7.3" text-anchor="middle" fill="#111" stroke="#111" stroke-width="0.120" >3</text>
<text x="0" y="0" font-size="8.1" text-anchor="middle" fill="#111" stroke="#111" stroke-width="0.28" transform="translate(279.5,670.6) scale(0.8,1)">−log(p-value)</text>
<text x="304.40" y="568.50" font-size="7.0" text-anchor="start" fill="#222" stroke="#222" stroke-width="0.120" >Score</text>
<defs><linearGradient id="sc" x1="0" y1="0" x2="0" y2="1"><stop offset="0" stop-color="#ff0000"/><stop offset="0.15" stop-color="#f00040"/><stop offset="0.5" stop-color="#c400a0"/><stop offset="0.78" stop-color="#8a00d8"/><stop offset="1" stop-color="#3a10ff"/></linearGradient></defs>
<rect x="306.90" y="571.20" width="5.60" height="25.50" fill="url(#sc)" />
<text x="315.00" y="576.10" font-size="5.4" text-anchor="start" fill="#333" stroke="#333" stroke-width="0.000" >60</text>
<text x="315.00" y="582.00" font-size="5.4" text-anchor="start" fill="#333" stroke="#333" stroke-width="0.000" >50</text>
<text x="315.00" y="588.20" font-size="5.4" text-anchor="start" fill="#333" stroke="#333" stroke-width="0.000" >40</text>
<text x="315.00" y="594.10" font-size="5.4" text-anchor="start" fill="#333" stroke="#333" stroke-width="0.000" >30</text>
<text x="304.50" y="609.50" font-size="7.0" text-anchor="start" fill="#222" stroke="#222" stroke-width="0.120" >Ratio</text>
<circle cx="309.50" cy="615.00" r="0.80" fill="#000"/>
<text x="313.60" y="616.90" font-size="5.4" text-anchor="start" fill="#333" stroke="#333" stroke-width="0.000" >0.05</text>
<circle cx="309.50" cy="620.30" r="1.40" fill="#000"/>
<text x="313.60" y="622.20" font-size="5.4" text-anchor="start" fill="#333" stroke="#333" stroke-width="0.000" >0.10</text>
<circle cx="309.50" cy="625.70" r="1.90" fill="#000"/>
<text x="313.60" y="627.60" font-size="5.4" text-anchor="start" fill="#333" stroke="#333" stroke-width="0.000" >0.15</text>
<circle cx="309.50" cy="631.00" r="2.50" fill="#000"/>
<text x="313.60" y="632.90" font-size="5.4" text-anchor="start" fill="#333" stroke="#333" stroke-width="0.000" >0.20</text><rect x="0.6" y="0.6" width="518.8" height="676.8" fill="none" stroke="#000" stroke-width="1.2"/></svg></body></html>
